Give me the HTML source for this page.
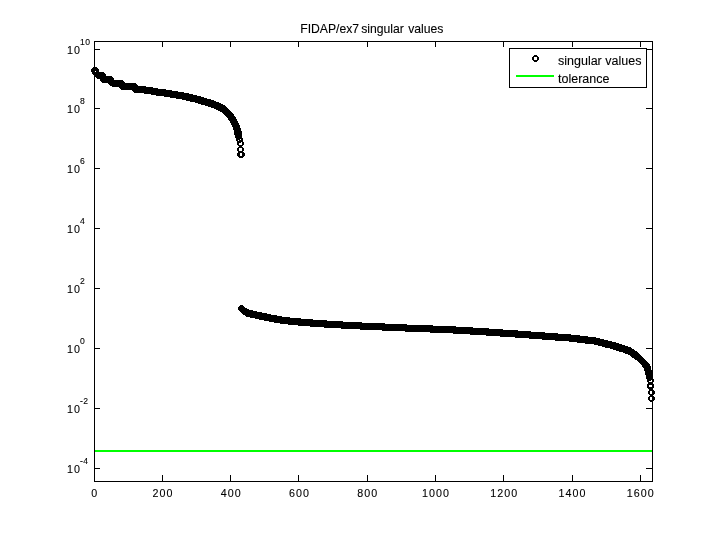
<!DOCTYPE html>
<html><head><meta charset="utf-8"><title>FIDAP/ex7 singular values</title>
<style>
html,body{margin:0;padding:0;background:#fff;}
svg{display:block;}
text{font-family:"Liberation Sans",sans-serif;fill:#000;stroke:#000;stroke-width:0.1px;}
</style></head><body>
<svg width="720" height="540" viewBox="0 0 720 540">
<rect x="0" y="0" width="720" height="540" fill="#fff"/>
<rect x="94" y="450" width="558" height="2" fill="#00ff00" shape-rendering="crispEdges"/>
<path fill="#000" shape-rendering="crispEdges" d="M93 67h3v1h1v1h1v3h-1v1h-1v1h-3v-1h-1v-1h-1v-3h1v-1h1zm0 2v3h3v-3zM94 67h3v1h1v1h1v3h-1v1h-1v1h-3v-1h-1v-1h-1v-3h1v-1h1zm0 2v3h3v-3zM94 69h3v1h1v1h1v3h-1v1h-1v1h-3v-1h-1v-1h-1v-3h1v-1h1zm0 2v3h3v-3zM96 71h3v1h1v1h1v3h-1v1h-1v1h-3v-1h-1v-1h-1v-3h1v-1h1zm0 2v3h3v-3zM97 72h3v1h1v1h1v3h-1v1h-1v1h-3v-1h-1v-1h-1v-3h1v-1h1zm0 2v3h3v-3zM98 72h3v1h1v1h1v3h-1v1h-1v1h-3v-1h-1v-1h-1v-3h1v-1h1zm0 2v3h3v-3zM99 72h3v1h1v1h1v3h-1v1h-1v1h-3v-1h-1v-1h-1v-3h1v-1h1zm0 2v3h3v-3zM100 72h3v1h1v1h1v3h-1v1h-1v1h-3v-1h-1v-1h-1v-3h1v-1h1zm0 2v3h3v-3zM101 72h3v1h1v1h1v3h-1v1h-1v1h-3v-1h-1v-1h-1v-3h1v-1h1zm0 2v3h3v-3zM102 76h3v1h1v1h1v3h-1v1h-1v1h-3v-1h-1v-1h-1v-3h1v-1h1zm0 2v3h3v-3zM103 76h3v1h1v1h1v3h-1v1h-1v1h-3v-1h-1v-1h-1v-3h1v-1h1zm0 2v3h3v-3zM104 76h3v1h1v1h1v3h-1v1h-1v1h-3v-1h-1v-1h-1v-3h1v-1h1zm0 2v3h3v-3zM105 76h3v1h1v1h1v3h-1v1h-1v1h-3v-1h-1v-1h-1v-3h1v-1h1zm0 2v3h3v-3zM106 76h3v1h1v1h1v3h-1v1h-1v1h-3v-1h-1v-1h-1v-3h1v-1h1zm0 2v3h3v-3zM107 76h3v1h1v1h1v3h-1v1h-1v1h-3v-1h-1v-1h-1v-3h1v-1h1zm0 2v3h3v-3zM108 76h3v1h1v1h1v3h-1v1h-1v1h-3v-1h-1v-1h-1v-3h1v-1h1zm0 2v3h3v-3zM109 76h3v1h1v1h1v3h-1v1h-1v1h-3v-1h-1v-1h-1v-3h1v-1h1zm0 2v3h3v-3zM110 79h3v1h1v1h1v3h-1v1h-1v1h-3v-1h-1v-1h-1v-3h1v-1h1zm0 2v3h3v-3zM111 79h3v1h1v1h1v3h-1v1h-1v1h-3v-1h-1v-1h-1v-3h1v-1h1zm0 2v3h3v-3zM112 80h3v1h1v1h1v3h-1v1h-1v1h-3v-1h-1v-1h-1v-3h1v-1h1zm0 2v3h3v-3zM113 80h3v1h1v1h1v3h-1v1h-1v1h-3v-1h-1v-1h-1v-3h1v-1h1zm0 2v3h3v-3zM114 80h3v1h1v1h1v3h-1v1h-1v1h-3v-1h-1v-1h-1v-3h1v-1h1zm0 2v3h3v-3zM115 80h3v1h1v1h1v3h-1v1h-1v1h-3v-1h-1v-1h-1v-3h1v-1h1zm0 2v3h3v-3zM116 80h3v1h1v1h1v3h-1v1h-1v1h-3v-1h-1v-1h-1v-3h1v-1h1zm0 2v3h3v-3zM117 80h3v1h1v1h1v3h-1v1h-1v1h-3v-1h-1v-1h-1v-3h1v-1h1zm0 2v3h3v-3zM118 80h3v1h1v1h1v3h-1v1h-1v1h-3v-1h-1v-1h-1v-3h1v-1h1zm0 2v3h3v-3zM119 80h3v1h1v1h1v3h-1v1h-1v1h-3v-1h-1v-1h-1v-3h1v-1h1zm0 2v3h3v-3zM120 80h3v1h1v1h1v3h-1v1h-1v1h-3v-1h-1v-1h-1v-3h1v-1h1zm0 2v3h3v-3zM121 82h3v1h1v1h1v3h-1v1h-1v1h-3v-1h-1v-1h-1v-3h1v-1h1zm0 2v3h3v-3zM121 83h3v1h1v1h1v3h-1v1h-1v1h-3v-1h-1v-1h-1v-3h1v-1h1zm0 2v3h3v-3zM122 83h3v1h1v1h1v3h-1v1h-1v1h-3v-1h-1v-1h-1v-3h1v-1h1zm0 2v3h3v-3zM123 83h3v1h1v1h1v3h-1v1h-1v1h-3v-1h-1v-1h-1v-3h1v-1h1zm0 2v3h3v-3zM124 83h3v1h1v1h1v3h-1v1h-1v1h-3v-1h-1v-1h-1v-3h1v-1h1zm0 2v3h3v-3zM125 83h3v1h1v1h1v3h-1v1h-1v1h-3v-1h-1v-1h-1v-3h1v-1h1zm0 2v3h3v-3zM126 83h3v1h1v1h1v3h-1v1h-1v1h-3v-1h-1v-1h-1v-3h1v-1h1zm0 2v3h3v-3zM127 83h3v1h1v1h1v3h-1v1h-1v1h-3v-1h-1v-1h-1v-3h1v-1h1zm0 2v3h3v-3zM128 83h3v1h1v1h1v3h-1v1h-1v1h-3v-1h-1v-1h-1v-3h1v-1h1zm0 2v3h3v-3zM129 83h3v1h1v1h1v3h-1v1h-1v1h-3v-1h-1v-1h-1v-3h1v-1h1zm0 2v3h3v-3zM130 83h3v1h1v1h1v3h-1v1h-1v1h-3v-1h-1v-1h-1v-3h1v-1h1zm0 2v3h3v-3zM131 83h3v1h1v1h1v3h-1v1h-1v1h-3v-1h-1v-1h-1v-3h1v-1h1zm0 2v3h3v-3zM132 83h3v1h1v1h1v3h-1v1h-1v1h-3v-1h-1v-1h-1v-3h1v-1h1zm0 2v3h3v-3zM133 83h3v1h1v1h1v3h-1v1h-1v1h-3v-1h-1v-1h-1v-3h1v-1h1zm0 2v3h3v-3zM134 85h3v1h1v1h1v3h-1v1h-1v1h-3v-1h-1v-1h-1v-3h1v-1h1zm0 2v3h3v-3zM134 86h3v1h1v1h1v3h-1v1h-1v1h-3v-1h-1v-1h-1v-3h1v-1h1zm0 2v3h3v-3zM135 86h3v1h1v1h1v3h-1v1h-1v1h-3v-1h-1v-1h-1v-3h1v-1h1zm0 2v3h3v-3zM136 86h3v1h1v1h1v3h-1v1h-1v1h-3v-1h-1v-1h-1v-3h1v-1h1zm0 2v3h3v-3zM137 86h3v1h1v1h1v3h-1v1h-1v1h-3v-1h-1v-1h-1v-3h1v-1h1zm0 2v3h3v-3zM138 86h3v1h1v1h1v3h-1v1h-1v1h-3v-1h-1v-1h-1v-3h1v-1h1zm0 2v3h3v-3zM139 86h3v1h1v1h1v3h-1v1h-1v1h-3v-1h-1v-1h-1v-3h1v-1h1zm0 2v3h3v-3zM140 86h3v1h1v1h1v3h-1v1h-1v1h-3v-1h-1v-1h-1v-3h1v-1h1zm0 2v3h3v-3zM141 86h3v1h1v1h1v3h-1v1h-1v1h-3v-1h-1v-1h-1v-3h1v-1h1zm0 2v3h3v-3zM142 86h3v1h1v1h1v3h-1v1h-1v1h-3v-1h-1v-1h-1v-3h1v-1h1zm0 2v3h3v-3zM143 86h3v1h1v1h1v3h-1v1h-1v1h-3v-1h-1v-1h-1v-3h1v-1h1zm0 2v3h3v-3zM144 87h3v1h1v1h1v3h-1v1h-1v1h-3v-1h-1v-1h-1v-3h1v-1h1zm0 2v3h3v-3zM145 87h3v1h1v1h1v3h-1v1h-1v1h-3v-1h-1v-1h-1v-3h1v-1h1zm0 2v3h3v-3zM146 87h3v1h1v1h1v3h-1v1h-1v1h-3v-1h-1v-1h-1v-3h1v-1h1zm0 2v3h3v-3zM147 87h3v1h1v1h1v3h-1v1h-1v1h-3v-1h-1v-1h-1v-3h1v-1h1zm0 2v3h3v-3zM148 87h3v1h1v1h1v3h-1v1h-1v1h-3v-1h-1v-1h-1v-3h1v-1h1zm0 2v3h3v-3zM149 87h3v1h1v1h1v3h-1v1h-1v1h-3v-1h-1v-1h-1v-3h1v-1h1zm0 2v3h3v-3zM150 87h3v1h1v1h1v3h-1v1h-1v1h-3v-1h-1v-1h-1v-3h1v-1h1zm0 2v3h3v-3zM151 88h3v1h1v1h1v3h-1v1h-1v1h-3v-1h-1v-1h-1v-3h1v-1h1zm0 2v3h3v-3zM152 88h3v1h1v1h1v3h-1v1h-1v1h-3v-1h-1v-1h-1v-3h1v-1h1zm0 2v3h3v-3zM153 88h3v1h1v1h1v3h-1v1h-1v1h-3v-1h-1v-1h-1v-3h1v-1h1zm0 2v3h3v-3zM154 88h3v1h1v1h1v3h-1v1h-1v1h-3v-1h-1v-1h-1v-3h1v-1h1zm0 2v3h3v-3zM155 88h3v1h1v1h1v3h-1v1h-1v1h-3v-1h-1v-1h-1v-3h1v-1h1zm0 2v3h3v-3zM156 89h3v1h1v1h1v3h-1v1h-1v1h-3v-1h-1v-1h-1v-3h1v-1h1zm0 2v3h3v-3zM157 89h3v1h1v1h1v3h-1v1h-1v1h-3v-1h-1v-1h-1v-3h1v-1h1zm0 2v3h3v-3zM158 89h3v1h1v1h1v3h-1v1h-1v1h-3v-1h-1v-1h-1v-3h1v-1h1zm0 2v3h3v-3zM159 89h3v1h1v1h1v3h-1v1h-1v1h-3v-1h-1v-1h-1v-3h1v-1h1zm0 2v3h3v-3zM160 89h3v1h1v1h1v3h-1v1h-1v1h-3v-1h-1v-1h-1v-3h1v-1h1zm0 2v3h3v-3zM161 89h3v1h1v1h1v3h-1v1h-1v1h-3v-1h-1v-1h-1v-3h1v-1h1zm0 2v3h3v-3zM162 89h3v1h1v1h1v3h-1v1h-1v1h-3v-1h-1v-1h-1v-3h1v-1h1zm0 2v3h3v-3zM163 89h3v1h1v1h1v3h-1v1h-1v1h-3v-1h-1v-1h-1v-3h1v-1h1zm0 2v3h3v-3zM164 90h3v1h1v1h1v3h-1v1h-1v1h-3v-1h-1v-1h-1v-3h1v-1h1zm0 2v3h3v-3zM165 90h3v1h1v1h1v3h-1v1h-1v1h-3v-1h-1v-1h-1v-3h1v-1h1zm0 2v3h3v-3zM166 90h3v1h1v1h1v3h-1v1h-1v1h-3v-1h-1v-1h-1v-3h1v-1h1zm0 2v3h3v-3zM167 90h3v1h1v1h1v3h-1v1h-1v1h-3v-1h-1v-1h-1v-3h1v-1h1zm0 2v3h3v-3zM168 90h3v1h1v1h1v3h-1v1h-1v1h-3v-1h-1v-1h-1v-3h1v-1h1zm0 2v3h3v-3zM169 90h3v1h1v1h1v3h-1v1h-1v1h-3v-1h-1v-1h-1v-3h1v-1h1zm0 2v3h3v-3zM170 91h3v1h1v1h1v3h-1v1h-1v1h-3v-1h-1v-1h-1v-3h1v-1h1zm0 2v3h3v-3zM171 91h3v1h1v1h1v3h-1v1h-1v1h-3v-1h-1v-1h-1v-3h1v-1h1zm0 2v3h3v-3zM172 91h3v1h1v1h1v3h-1v1h-1v1h-3v-1h-1v-1h-1v-3h1v-1h1zm0 2v3h3v-3zM173 91h3v1h1v1h1v3h-1v1h-1v1h-3v-1h-1v-1h-1v-3h1v-1h1zm0 2v3h3v-3zM174 91h3v1h1v1h1v3h-1v1h-1v1h-3v-1h-1v-1h-1v-3h1v-1h1zm0 2v3h3v-3zM175 91h3v1h1v1h1v3h-1v1h-1v1h-3v-1h-1v-1h-1v-3h1v-1h1zm0 2v3h3v-3zM176 92h3v1h1v1h1v3h-1v1h-1v1h-3v-1h-1v-1h-1v-3h1v-1h1zm0 2v3h3v-3zM177 92h3v1h1v1h1v3h-1v1h-1v1h-3v-1h-1v-1h-1v-3h1v-1h1zm0 2v3h3v-3zM178 92h3v1h1v1h1v3h-1v1h-1v1h-3v-1h-1v-1h-1v-3h1v-1h1zm0 2v3h3v-3zM179 92h3v1h1v1h1v3h-1v1h-1v1h-3v-1h-1v-1h-1v-3h1v-1h1zm0 2v3h3v-3zM180 92h3v1h1v1h1v3h-1v1h-1v1h-3v-1h-1v-1h-1v-3h1v-1h1zm0 2v3h3v-3zM181 92h3v1h1v1h1v3h-1v1h-1v1h-3v-1h-1v-1h-1v-3h1v-1h1zm0 2v3h3v-3zM182 93h3v1h1v1h1v3h-1v1h-1v1h-3v-1h-1v-1h-1v-3h1v-1h1zm0 2v3h3v-3zM183 93h3v1h1v1h1v3h-1v1h-1v1h-3v-1h-1v-1h-1v-3h1v-1h1zm0 2v3h3v-3zM184 93h3v1h1v1h1v3h-1v1h-1v1h-3v-1h-1v-1h-1v-3h1v-1h1zm0 2v3h3v-3zM185 93h3v1h1v1h1v3h-1v1h-1v1h-3v-1h-1v-1h-1v-3h1v-1h1zm0 2v3h3v-3zM186 93h3v1h1v1h1v3h-1v1h-1v1h-3v-1h-1v-1h-1v-3h1v-1h1zm0 2v3h3v-3zM186 94h3v1h1v1h1v3h-1v1h-1v1h-3v-1h-1v-1h-1v-3h1v-1h1zm0 2v3h3v-3zM187 94h3v1h1v1h1v3h-1v1h-1v1h-3v-1h-1v-1h-1v-3h1v-1h1zm0 2v3h3v-3zM188 94h3v1h1v1h1v3h-1v1h-1v1h-3v-1h-1v-1h-1v-3h1v-1h1zm0 2v3h3v-3zM189 94h3v1h1v1h1v3h-1v1h-1v1h-3v-1h-1v-1h-1v-3h1v-1h1zm0 2v3h3v-3zM190 94h3v1h1v1h1v3h-1v1h-1v1h-3v-1h-1v-1h-1v-3h1v-1h1zm0 2v3h3v-3zM190 95h3v1h1v1h1v3h-1v1h-1v1h-3v-1h-1v-1h-1v-3h1v-1h1zm0 2v3h3v-3zM191 95h3v1h1v1h1v3h-1v1h-1v1h-3v-1h-1v-1h-1v-3h1v-1h1zm0 2v3h3v-3zM192 95h3v1h1v1h1v3h-1v1h-1v1h-3v-1h-1v-1h-1v-3h1v-1h1zm0 2v3h3v-3zM193 95h3v1h1v1h1v3h-1v1h-1v1h-3v-1h-1v-1h-1v-3h1v-1h1zm0 2v3h3v-3zM194 95h3v1h1v1h1v3h-1v1h-1v1h-3v-1h-1v-1h-1v-3h1v-1h1zm0 2v3h3v-3zM195 96h3v1h1v1h1v3h-1v1h-1v1h-3v-1h-1v-1h-1v-3h1v-1h1zm0 2v3h3v-3zM196 96h3v1h1v1h1v3h-1v1h-1v1h-3v-1h-1v-1h-1v-3h1v-1h1zm0 2v3h3v-3zM197 96h3v1h1v1h1v3h-1v1h-1v1h-3v-1h-1v-1h-1v-3h1v-1h1zm0 2v3h3v-3zM198 96h3v1h1v1h1v3h-1v1h-1v1h-3v-1h-1v-1h-1v-3h1v-1h1zm0 2v3h3v-3zM198 97h3v1h1v1h1v3h-1v1h-1v1h-3v-1h-1v-1h-1v-3h1v-1h1zm0 2v3h3v-3zM199 97h3v1h1v1h1v3h-1v1h-1v1h-3v-1h-1v-1h-1v-3h1v-1h1zm0 2v3h3v-3zM200 97h3v1h1v1h1v3h-1v1h-1v1h-3v-1h-1v-1h-1v-3h1v-1h1zm0 2v3h3v-3zM201 97h3v1h1v1h1v3h-1v1h-1v1h-3v-1h-1v-1h-1v-3h1v-1h1zm0 2v3h3v-3zM201 98h3v1h1v1h1v3h-1v1h-1v1h-3v-1h-1v-1h-1v-3h1v-1h1zm0 2v3h3v-3zM202 98h3v1h1v1h1v3h-1v1h-1v1h-3v-1h-1v-1h-1v-3h1v-1h1zm0 2v3h3v-3zM203 98h3v1h1v1h1v3h-1v1h-1v1h-3v-1h-1v-1h-1v-3h1v-1h1zm0 2v3h3v-3zM204 98h3v1h1v1h1v3h-1v1h-1v1h-3v-1h-1v-1h-1v-3h1v-1h1zm0 2v3h3v-3zM205 99h3v1h1v1h1v3h-1v1h-1v1h-3v-1h-1v-1h-1v-3h1v-1h1zm0 2v3h3v-3zM206 99h3v1h1v1h1v3h-1v1h-1v1h-3v-1h-1v-1h-1v-3h1v-1h1zm0 2v3h3v-3zM207 99h3v1h1v1h1v3h-1v1h-1v1h-3v-1h-1v-1h-1v-3h1v-1h1zm0 2v3h3v-3zM208 99h3v1h1v1h1v3h-1v1h-1v1h-3v-1h-1v-1h-1v-3h1v-1h1zm0 2v3h3v-3zM208 100h3v1h1v1h1v3h-1v1h-1v1h-3v-1h-1v-1h-1v-3h1v-1h1zm0 2v3h3v-3zM209 100h3v1h1v1h1v3h-1v1h-1v1h-3v-1h-1v-1h-1v-3h1v-1h1zm0 2v3h3v-3zM210 100h3v1h1v1h1v3h-1v1h-1v1h-3v-1h-1v-1h-1v-3h1v-1h1zm0 2v3h3v-3zM211 100h3v1h1v1h1v3h-1v1h-1v1h-3v-1h-1v-1h-1v-3h1v-1h1zm0 2v3h3v-3zM211 101h3v1h1v1h1v3h-1v1h-1v1h-3v-1h-1v-1h-1v-3h1v-1h1zm0 2v3h3v-3zM212 101h3v1h1v1h1v3h-1v1h-1v1h-3v-1h-1v-1h-1v-3h1v-1h1zm0 2v3h3v-3zM213 101h3v1h1v1h1v3h-1v1h-1v1h-3v-1h-1v-1h-1v-3h1v-1h1zm0 2v3h3v-3zM214 102h3v1h1v1h1v3h-1v1h-1v1h-3v-1h-1v-1h-1v-3h1v-1h1zm0 2v3h3v-3zM215 102h3v1h1v1h1v3h-1v1h-1v1h-3v-1h-1v-1h-1v-3h1v-1h1zm0 2v3h3v-3zM216 102h3v1h1v1h1v3h-1v1h-1v1h-3v-1h-1v-1h-1v-3h1v-1h1zm0 2v3h3v-3zM216 103h3v1h1v1h1v3h-1v1h-1v1h-3v-1h-1v-1h-1v-3h1v-1h1zm0 2v3h3v-3zM217 103h3v1h1v1h1v3h-1v1h-1v1h-3v-1h-1v-1h-1v-3h1v-1h1zm0 2v3h3v-3zM218 103h3v1h1v1h1v3h-1v1h-1v1h-3v-1h-1v-1h-1v-3h1v-1h1zm0 2v3h3v-3zM218 104h3v1h1v1h1v3h-1v1h-1v1h-3v-1h-1v-1h-1v-3h1v-1h1zm0 2v3h3v-3zM219 104h3v1h1v1h1v3h-1v1h-1v1h-3v-1h-1v-1h-1v-3h1v-1h1zm0 2v3h3v-3zM220 104h3v1h1v1h1v3h-1v1h-1v1h-3v-1h-1v-1h-1v-3h1v-1h1zm0 2v3h3v-3zM220 105h3v1h1v1h1v3h-1v1h-1v1h-3v-1h-1v-1h-1v-3h1v-1h1zm0 2v3h3v-3zM221 105h3v1h1v1h1v3h-1v1h-1v1h-3v-1h-1v-1h-1v-3h1v-1h1zm0 2v3h3v-3zM222 105h3v1h1v1h1v3h-1v1h-1v1h-3v-1h-1v-1h-1v-3h1v-1h1zm0 2v3h3v-3zM222 106h3v1h1v1h1v3h-1v1h-1v1h-3v-1h-1v-1h-1v-3h1v-1h1zm0 2v3h3v-3zM223 106h3v1h1v1h1v3h-1v1h-1v1h-3v-1h-1v-1h-1v-3h1v-1h1zm0 2v3h3v-3zM223 107h3v1h1v1h1v3h-1v1h-1v1h-3v-1h-1v-1h-1v-3h1v-1h1zm0 2v3h3v-3zM224 107h3v1h1v1h1v3h-1v1h-1v1h-3v-1h-1v-1h-1v-3h1v-1h1zm0 2v3h3v-3zM224 108h3v1h1v1h1v3h-1v1h-1v1h-3v-1h-1v-1h-1v-3h1v-1h1zm0 2v3h3v-3zM225 108h3v1h1v1h1v3h-1v1h-1v1h-3v-1h-1v-1h-1v-3h1v-1h1zm0 2v3h3v-3zM225 109h3v1h1v1h1v3h-1v1h-1v1h-3v-1h-1v-1h-1v-3h1v-1h1zm0 2v3h3v-3zM226 109h3v1h1v1h1v3h-1v1h-1v1h-3v-1h-1v-1h-1v-3h1v-1h1zm0 2v3h3v-3zM226 110h3v1h1v1h1v3h-1v1h-1v1h-3v-1h-1v-1h-1v-3h1v-1h1zm0 2v3h3v-3zM227 110h3v1h1v1h1v3h-1v1h-1v1h-3v-1h-1v-1h-1v-3h1v-1h1zm0 2v3h3v-3zM227 111h3v1h1v1h1v3h-1v1h-1v1h-3v-1h-1v-1h-1v-3h1v-1h1zm0 2v3h3v-3zM228 111h3v1h1v1h1v3h-1v1h-1v1h-3v-1h-1v-1h-1v-3h1v-1h1zm0 2v3h3v-3zM228 112h3v1h1v1h1v3h-1v1h-1v1h-3v-1h-1v-1h-1v-3h1v-1h1zm0 2v3h3v-3zM229 112h3v1h1v1h1v3h-1v1h-1v1h-3v-1h-1v-1h-1v-3h1v-1h1zm0 2v3h3v-3zM229 113h3v1h1v1h1v3h-1v1h-1v1h-3v-1h-1v-1h-1v-3h1v-1h1zm0 2v3h3v-3zM230 114h3v1h1v1h1v3h-1v1h-1v1h-3v-1h-1v-1h-1v-3h1v-1h1zm0 2v3h3v-3zM230 115h3v1h1v1h1v3h-1v1h-1v1h-3v-1h-1v-1h-1v-3h1v-1h1zm0 2v3h3v-3zM231 115h3v1h1v1h1v3h-1v1h-1v1h-3v-1h-1v-1h-1v-3h1v-1h1zm0 2v3h3v-3zM231 116h3v1h1v1h1v3h-1v1h-1v1h-3v-1h-1v-1h-1v-3h1v-1h1zm0 2v3h3v-3zM232 117h3v1h1v1h1v3h-1v1h-1v1h-3v-1h-1v-1h-1v-3h1v-1h1zm0 2v3h3v-3zM232 118h3v1h1v1h1v3h-1v1h-1v1h-3v-1h-1v-1h-1v-3h1v-1h1zm0 2v3h3v-3zM233 119h3v1h1v1h1v3h-1v1h-1v1h-3v-1h-1v-1h-1v-3h1v-1h1zm0 2v3h3v-3zM233 120h3v1h1v1h1v3h-1v1h-1v1h-3v-1h-1v-1h-1v-3h1v-1h1zm0 2v3h3v-3zM234 121h3v1h1v1h1v3h-1v1h-1v1h-3v-1h-1v-1h-1v-3h1v-1h1zm0 2v3h3v-3zM234 122h3v1h1v1h1v3h-1v1h-1v1h-3v-1h-1v-1h-1v-3h1v-1h1zm0 2v3h3v-3zM235 123h3v1h1v1h1v3h-1v1h-1v1h-3v-1h-1v-1h-1v-3h1v-1h1zm0 2v3h3v-3zM235 124h3v1h1v1h1v3h-1v1h-1v1h-3v-1h-1v-1h-1v-3h1v-1h1zm0 2v3h3v-3zM235 125h3v1h1v1h1v3h-1v1h-1v1h-3v-1h-1v-1h-1v-3h1v-1h1zm0 2v3h3v-3zM236 126h3v1h1v1h1v3h-1v1h-1v1h-3v-1h-1v-1h-1v-3h1v-1h1zm0 2v3h3v-3zM236 128h3v1h1v1h1v3h-1v1h-1v1h-3v-1h-1v-1h-1v-3h1v-1h1zm0 2v3h3v-3zM236 130h3v1h1v1h1v3h-1v1h-1v1h-3v-1h-1v-1h-1v-3h1v-1h1zm0 2v3h3v-3zM237 131h3v1h1v1h1v3h-1v1h-1v1h-3v-1h-1v-1h-1v-3h1v-1h1zm0 2v3h3v-3zM237 132h3v1h1v1h1v3h-1v1h-1v1h-3v-1h-1v-1h-1v-3h1v-1h1zm0 2v3h3v-3zM237 133h3v1h1v1h1v3h-1v1h-1v1h-3v-1h-1v-1h-1v-3h1v-1h1zm0 2v3h3v-3zM237 129h3v1h1v1h1v3h-1v1h-1v1h-3v-1h-1v-1h-1v-3h1v-1h1zm0 2v3h3v-3zM238 136h3v1h1v1h1v3h-1v1h-1v1h-3v-1h-1v-1h-1v-3h1v-1h1zm0 2v3h3v-3zM239 140h3v1h1v1h1v3h-1v1h-1v1h-3v-1h-1v-1h-1v-3h1v-1h1zm0 2v3h3v-3zM239 146h3v1h1v1h1v3h-1v1h-1v1h-3v-1h-1v-1h-1v-3h1v-1h1zm0 2v3h3v-3zM239 151h3v1h1v1h1v3h-1v1h-1v1h-3v-1h-1v-1h-1v-3h1v-1h1zm0 2v3h3v-3zM240 151h3v1h1v1h1v3h-1v1h-1v1h-3v-1h-1v-1h-1v-3h1v-1h1zm0 2v3h3v-3zM240 305h3v1h1v1h1v3h-1v1h-1v1h-3v-1h-1v-1h-1v-3h1v-1h1zm0 2v3h3v-3zM241 306h3v1h1v1h1v3h-1v1h-1v1h-3v-1h-1v-1h-1v-3h1v-1h1zm0 2v3h3v-3zM242 307h3v1h1v1h1v3h-1v1h-1v1h-3v-1h-1v-1h-1v-3h1v-1h1zm0 2v3h3v-3zM243 308h3v1h1v1h1v3h-1v1h-1v1h-3v-1h-1v-1h-1v-3h1v-1h1zm0 2v3h3v-3zM244 308h3v1h1v1h1v3h-1v1h-1v1h-3v-1h-1v-1h-1v-3h1v-1h1zm0 2v3h3v-3zM245 309h3v1h1v1h1v3h-1v1h-1v1h-3v-1h-1v-1h-1v-3h1v-1h1zm0 2v3h3v-3zM246 309h3v1h1v1h1v3h-1v1h-1v1h-3v-1h-1v-1h-1v-3h1v-1h1zm0 2v3h3v-3zM246 310h3v1h1v1h1v3h-1v1h-1v1h-3v-1h-1v-1h-1v-3h1v-1h1zm0 2v3h3v-3zM247 310h3v1h1v1h1v3h-1v1h-1v1h-3v-1h-1v-1h-1v-3h1v-1h1zm0 2v3h3v-3zM248 310h3v1h1v1h1v3h-1v1h-1v1h-3v-1h-1v-1h-1v-3h1v-1h1zm0 2v3h3v-3zM249 310h3v1h1v1h1v3h-1v1h-1v1h-3v-1h-1v-1h-1v-3h1v-1h1zm0 2v3h3v-3zM250 310h3v1h1v1h1v3h-1v1h-1v1h-3v-1h-1v-1h-1v-3h1v-1h1zm0 2v3h3v-3zM250 311h3v1h1v1h1v3h-1v1h-1v1h-3v-1h-1v-1h-1v-3h1v-1h1zm0 2v3h3v-3zM251 311h3v1h1v1h1v3h-1v1h-1v1h-3v-1h-1v-1h-1v-3h1v-1h1zm0 2v3h3v-3zM252 311h3v1h1v1h1v3h-1v1h-1v1h-3v-1h-1v-1h-1v-3h1v-1h1zm0 2v3h3v-3zM253 311h3v1h1v1h1v3h-1v1h-1v1h-3v-1h-1v-1h-1v-3h1v-1h1zm0 2v3h3v-3zM254 311h3v1h1v1h1v3h-1v1h-1v1h-3v-1h-1v-1h-1v-3h1v-1h1zm0 2v3h3v-3zM255 312h3v1h1v1h1v3h-1v1h-1v1h-3v-1h-1v-1h-1v-3h1v-1h1zm0 2v3h3v-3zM256 312h3v1h1v1h1v3h-1v1h-1v1h-3v-1h-1v-1h-1v-3h1v-1h1zm0 2v3h3v-3zM257 312h3v1h1v1h1v3h-1v1h-1v1h-3v-1h-1v-1h-1v-3h1v-1h1zm0 2v3h3v-3zM258 312h3v1h1v1h1v3h-1v1h-1v1h-3v-1h-1v-1h-1v-3h1v-1h1zm0 2v3h3v-3zM259 312h3v1h1v1h1v3h-1v1h-1v1h-3v-1h-1v-1h-1v-3h1v-1h1zm0 2v3h3v-3zM259 313h3v1h1v1h1v3h-1v1h-1v1h-3v-1h-1v-1h-1v-3h1v-1h1zm0 2v3h3v-3zM260 313h3v1h1v1h1v3h-1v1h-1v1h-3v-1h-1v-1h-1v-3h1v-1h1zm0 2v3h3v-3zM261 313h3v1h1v1h1v3h-1v1h-1v1h-3v-1h-1v-1h-1v-3h1v-1h1zm0 2v3h3v-3zM262 313h3v1h1v1h1v3h-1v1h-1v1h-3v-1h-1v-1h-1v-3h1v-1h1zm0 2v3h3v-3zM263 313h3v1h1v1h1v3h-1v1h-1v1h-3v-1h-1v-1h-1v-3h1v-1h1zm0 2v3h3v-3zM264 313h3v1h1v1h1v3h-1v1h-1v1h-3v-1h-1v-1h-1v-3h1v-1h1zm0 2v3h3v-3zM264 314h3v1h1v1h1v3h-1v1h-1v1h-3v-1h-1v-1h-1v-3h1v-1h1zm0 2v3h3v-3zM265 314h3v1h1v1h1v3h-1v1h-1v1h-3v-1h-1v-1h-1v-3h1v-1h1zm0 2v3h3v-3zM266 314h3v1h1v1h1v3h-1v1h-1v1h-3v-1h-1v-1h-1v-3h1v-1h1zm0 2v3h3v-3zM267 314h3v1h1v1h1v3h-1v1h-1v1h-3v-1h-1v-1h-1v-3h1v-1h1zm0 2v3h3v-3zM268 314h3v1h1v1h1v3h-1v1h-1v1h-3v-1h-1v-1h-1v-3h1v-1h1zm0 2v3h3v-3zM269 315h3v1h1v1h1v3h-1v1h-1v1h-3v-1h-1v-1h-1v-3h1v-1h1zm0 2v3h3v-3zM270 315h3v1h1v1h1v3h-1v1h-1v1h-3v-1h-1v-1h-1v-3h1v-1h1zm0 2v3h3v-3zM271 315h3v1h1v1h1v3h-1v1h-1v1h-3v-1h-1v-1h-1v-3h1v-1h1zm0 2v3h3v-3zM272 315h3v1h1v1h1v3h-1v1h-1v1h-3v-1h-1v-1h-1v-3h1v-1h1zm0 2v3h3v-3zM273 315h3v1h1v1h1v3h-1v1h-1v1h-3v-1h-1v-1h-1v-3h1v-1h1zm0 2v3h3v-3zM274 315h3v1h1v1h1v3h-1v1h-1v1h-3v-1h-1v-1h-1v-3h1v-1h1zm0 2v3h3v-3zM274 316h3v1h1v1h1v3h-1v1h-1v1h-3v-1h-1v-1h-1v-3h1v-1h1zm0 2v3h3v-3zM275 316h3v1h1v1h1v3h-1v1h-1v1h-3v-1h-1v-1h-1v-3h1v-1h1zm0 2v3h3v-3zM276 316h3v1h1v1h1v3h-1v1h-1v1h-3v-1h-1v-1h-1v-3h1v-1h1zm0 2v3h3v-3zM277 316h3v1h1v1h1v3h-1v1h-1v1h-3v-1h-1v-1h-1v-3h1v-1h1zm0 2v3h3v-3zM278 316h3v1h1v1h1v3h-1v1h-1v1h-3v-1h-1v-1h-1v-3h1v-1h1zm0 2v3h3v-3zM279 316h3v1h1v1h1v3h-1v1h-1v1h-3v-1h-1v-1h-1v-3h1v-1h1zm0 2v3h3v-3zM280 317h3v1h1v1h1v3h-1v1h-1v1h-3v-1h-1v-1h-1v-3h1v-1h1zm0 2v3h3v-3zM281 317h3v1h1v1h1v3h-1v1h-1v1h-3v-1h-1v-1h-1v-3h1v-1h1zm0 2v3h3v-3zM282 317h3v1h1v1h1v3h-1v1h-1v1h-3v-1h-1v-1h-1v-3h1v-1h1zm0 2v3h3v-3zM283 317h3v1h1v1h1v3h-1v1h-1v1h-3v-1h-1v-1h-1v-3h1v-1h1zm0 2v3h3v-3zM284 317h3v1h1v1h1v3h-1v1h-1v1h-3v-1h-1v-1h-1v-3h1v-1h1zm0 2v3h3v-3zM285 317h3v1h1v1h1v3h-1v1h-1v1h-3v-1h-1v-1h-1v-3h1v-1h1zm0 2v3h3v-3zM286 317h3v1h1v1h1v3h-1v1h-1v1h-3v-1h-1v-1h-1v-3h1v-1h1zm0 2v3h3v-3zM287 317h3v1h1v1h1v3h-1v1h-1v1h-3v-1h-1v-1h-1v-3h1v-1h1zm0 2v3h3v-3zM288 318h3v1h1v1h1v3h-1v1h-1v1h-3v-1h-1v-1h-1v-3h1v-1h1zm0 2v3h3v-3zM289 318h3v1h1v1h1v3h-1v1h-1v1h-3v-1h-1v-1h-1v-3h1v-1h1zm0 2v3h3v-3zM290 318h3v1h1v1h1v3h-1v1h-1v1h-3v-1h-1v-1h-1v-3h1v-1h1zm0 2v3h3v-3zM291 318h3v1h1v1h1v3h-1v1h-1v1h-3v-1h-1v-1h-1v-3h1v-1h1zm0 2v3h3v-3zM292 318h3v1h1v1h1v3h-1v1h-1v1h-3v-1h-1v-1h-1v-3h1v-1h1zm0 2v3h3v-3zM293 318h3v1h1v1h1v3h-1v1h-1v1h-3v-1h-1v-1h-1v-3h1v-1h1zm0 2v3h3v-3zM294 318h3v1h1v1h1v3h-1v1h-1v1h-3v-1h-1v-1h-1v-3h1v-1h1zm0 2v3h3v-3zM295 318h3v1h1v1h1v3h-1v1h-1v1h-3v-1h-1v-1h-1v-3h1v-1h1zm0 2v3h3v-3zM296 318h3v1h1v1h1v3h-1v1h-1v1h-3v-1h-1v-1h-1v-3h1v-1h1zm0 2v3h3v-3zM297 318h3v1h1v1h1v3h-1v1h-1v1h-3v-1h-1v-1h-1v-3h1v-1h1zm0 2v3h3v-3zM298 318h3v1h1v1h1v3h-1v1h-1v1h-3v-1h-1v-1h-1v-3h1v-1h1zm0 2v3h3v-3zM298 319h3v1h1v1h1v3h-1v1h-1v1h-3v-1h-1v-1h-1v-3h1v-1h1zm0 2v3h3v-3zM299 319h3v1h1v1h1v3h-1v1h-1v1h-3v-1h-1v-1h-1v-3h1v-1h1zm0 2v3h3v-3zM300 319h3v1h1v1h1v3h-1v1h-1v1h-3v-1h-1v-1h-1v-3h1v-1h1zm0 2v3h3v-3zM301 319h3v1h1v1h1v3h-1v1h-1v1h-3v-1h-1v-1h-1v-3h1v-1h1zm0 2v3h3v-3zM302 319h3v1h1v1h1v3h-1v1h-1v1h-3v-1h-1v-1h-1v-3h1v-1h1zm0 2v3h3v-3zM303 319h3v1h1v1h1v3h-1v1h-1v1h-3v-1h-1v-1h-1v-3h1v-1h1zm0 2v3h3v-3zM304 319h3v1h1v1h1v3h-1v1h-1v1h-3v-1h-1v-1h-1v-3h1v-1h1zm0 2v3h3v-3zM305 319h3v1h1v1h1v3h-1v1h-1v1h-3v-1h-1v-1h-1v-3h1v-1h1zm0 2v3h3v-3zM306 319h3v1h1v1h1v3h-1v1h-1v1h-3v-1h-1v-1h-1v-3h1v-1h1zm0 2v3h3v-3zM307 319h3v1h1v1h1v3h-1v1h-1v1h-3v-1h-1v-1h-1v-3h1v-1h1zm0 2v3h3v-3zM308 319h3v1h1v1h1v3h-1v1h-1v1h-3v-1h-1v-1h-1v-3h1v-1h1zm0 2v3h3v-3zM309 319h3v1h1v1h1v3h-1v1h-1v1h-3v-1h-1v-1h-1v-3h1v-1h1zm0 2v3h3v-3zM310 319h3v1h1v1h1v3h-1v1h-1v1h-3v-1h-1v-1h-1v-3h1v-1h1zm0 2v3h3v-3zM310 320h3v1h1v1h1v3h-1v1h-1v1h-3v-1h-1v-1h-1v-3h1v-1h1zm0 2v3h3v-3zM311 320h3v1h1v1h1v3h-1v1h-1v1h-3v-1h-1v-1h-1v-3h1v-1h1zm0 2v3h3v-3zM312 320h3v1h1v1h1v3h-1v1h-1v1h-3v-1h-1v-1h-1v-3h1v-1h1zm0 2v3h3v-3zM313 320h3v1h1v1h1v3h-1v1h-1v1h-3v-1h-1v-1h-1v-3h1v-1h1zm0 2v3h3v-3zM314 320h3v1h1v1h1v3h-1v1h-1v1h-3v-1h-1v-1h-1v-3h1v-1h1zm0 2v3h3v-3zM315 320h3v1h1v1h1v3h-1v1h-1v1h-3v-1h-1v-1h-1v-3h1v-1h1zm0 2v3h3v-3zM316 320h3v1h1v1h1v3h-1v1h-1v1h-3v-1h-1v-1h-1v-3h1v-1h1zm0 2v3h3v-3zM317 320h3v1h1v1h1v3h-1v1h-1v1h-3v-1h-1v-1h-1v-3h1v-1h1zm0 2v3h3v-3zM318 320h3v1h1v1h1v3h-1v1h-1v1h-3v-1h-1v-1h-1v-3h1v-1h1zm0 2v3h3v-3zM319 320h3v1h1v1h1v3h-1v1h-1v1h-3v-1h-1v-1h-1v-3h1v-1h1zm0 2v3h3v-3zM320 320h3v1h1v1h1v3h-1v1h-1v1h-3v-1h-1v-1h-1v-3h1v-1h1zm0 2v3h3v-3zM321 320h3v1h1v1h1v3h-1v1h-1v1h-3v-1h-1v-1h-1v-3h1v-1h1zm0 2v3h3v-3zM322 320h3v1h1v1h1v3h-1v1h-1v1h-3v-1h-1v-1h-1v-3h1v-1h1zm0 2v3h3v-3zM323 320h3v1h1v1h1v3h-1v1h-1v1h-3v-1h-1v-1h-1v-3h1v-1h1zm0 2v3h3v-3zM324 320h3v1h1v1h1v3h-1v1h-1v1h-3v-1h-1v-1h-1v-3h1v-1h1zm0 2v3h3v-3zM324 321h3v1h1v1h1v3h-1v1h-1v1h-3v-1h-1v-1h-1v-3h1v-1h1zm0 2v3h3v-3zM325 321h3v1h1v1h1v3h-1v1h-1v1h-3v-1h-1v-1h-1v-3h1v-1h1zm0 2v3h3v-3zM326 321h3v1h1v1h1v3h-1v1h-1v1h-3v-1h-1v-1h-1v-3h1v-1h1zm0 2v3h3v-3zM327 321h3v1h1v1h1v3h-1v1h-1v1h-3v-1h-1v-1h-1v-3h1v-1h1zm0 2v3h3v-3zM328 321h3v1h1v1h1v3h-1v1h-1v1h-3v-1h-1v-1h-1v-3h1v-1h1zm0 2v3h3v-3zM329 321h3v1h1v1h1v3h-1v1h-1v1h-3v-1h-1v-1h-1v-3h1v-1h1zm0 2v3h3v-3zM330 321h3v1h1v1h1v3h-1v1h-1v1h-3v-1h-1v-1h-1v-3h1v-1h1zm0 2v3h3v-3zM331 321h3v1h1v1h1v3h-1v1h-1v1h-3v-1h-1v-1h-1v-3h1v-1h1zm0 2v3h3v-3zM332 321h3v1h1v1h1v3h-1v1h-1v1h-3v-1h-1v-1h-1v-3h1v-1h1zm0 2v3h3v-3zM333 321h3v1h1v1h1v3h-1v1h-1v1h-3v-1h-1v-1h-1v-3h1v-1h1zm0 2v3h3v-3zM334 321h3v1h1v1h1v3h-1v1h-1v1h-3v-1h-1v-1h-1v-3h1v-1h1zm0 2v3h3v-3zM335 321h3v1h1v1h1v3h-1v1h-1v1h-3v-1h-1v-1h-1v-3h1v-1h1zm0 2v3h3v-3zM336 321h3v1h1v1h1v3h-1v1h-1v1h-3v-1h-1v-1h-1v-3h1v-1h1zm0 2v3h3v-3zM337 321h3v1h1v1h1v3h-1v1h-1v1h-3v-1h-1v-1h-1v-3h1v-1h1zm0 2v3h3v-3zM338 321h3v1h1v1h1v3h-1v1h-1v1h-3v-1h-1v-1h-1v-3h1v-1h1zm0 2v3h3v-3zM339 321h3v1h1v1h1v3h-1v1h-1v1h-3v-1h-1v-1h-1v-3h1v-1h1zm0 2v3h3v-3zM340 321h3v1h1v1h1v3h-1v1h-1v1h-3v-1h-1v-1h-1v-3h1v-1h1zm0 2v3h3v-3zM341 322h3v1h1v1h1v3h-1v1h-1v1h-3v-1h-1v-1h-1v-3h1v-1h1zm0 2v3h3v-3zM342 322h3v1h1v1h1v3h-1v1h-1v1h-3v-1h-1v-1h-1v-3h1v-1h1zm0 2v3h3v-3zM343 322h3v1h1v1h1v3h-1v1h-1v1h-3v-1h-1v-1h-1v-3h1v-1h1zm0 2v3h3v-3zM344 322h3v1h1v1h1v3h-1v1h-1v1h-3v-1h-1v-1h-1v-3h1v-1h1zm0 2v3h3v-3zM345 322h3v1h1v1h1v3h-1v1h-1v1h-3v-1h-1v-1h-1v-3h1v-1h1zm0 2v3h3v-3zM346 322h3v1h1v1h1v3h-1v1h-1v1h-3v-1h-1v-1h-1v-3h1v-1h1zm0 2v3h3v-3zM347 322h3v1h1v1h1v3h-1v1h-1v1h-3v-1h-1v-1h-1v-3h1v-1h1zm0 2v3h3v-3zM348 322h3v1h1v1h1v3h-1v1h-1v1h-3v-1h-1v-1h-1v-3h1v-1h1zm0 2v3h3v-3zM349 322h3v1h1v1h1v3h-1v1h-1v1h-3v-1h-1v-1h-1v-3h1v-1h1zm0 2v3h3v-3zM350 322h3v1h1v1h1v3h-1v1h-1v1h-3v-1h-1v-1h-1v-3h1v-1h1zm0 2v3h3v-3zM351 322h3v1h1v1h1v3h-1v1h-1v1h-3v-1h-1v-1h-1v-3h1v-1h1zm0 2v3h3v-3zM352 322h3v1h1v1h1v3h-1v1h-1v1h-3v-1h-1v-1h-1v-3h1v-1h1zm0 2v3h3v-3zM353 322h3v1h1v1h1v3h-1v1h-1v1h-3v-1h-1v-1h-1v-3h1v-1h1zm0 2v3h3v-3zM354 322h3v1h1v1h1v3h-1v1h-1v1h-3v-1h-1v-1h-1v-3h1v-1h1zm0 2v3h3v-3zM355 322h3v1h1v1h1v3h-1v1h-1v1h-3v-1h-1v-1h-1v-3h1v-1h1zm0 2v3h3v-3zM356 322h3v1h1v1h1v3h-1v1h-1v1h-3v-1h-1v-1h-1v-3h1v-1h1zm0 2v3h3v-3zM357 322h3v1h1v1h1v3h-1v1h-1v1h-3v-1h-1v-1h-1v-3h1v-1h1zm0 2v3h3v-3zM358 322h3v1h1v1h1v3h-1v1h-1v1h-3v-1h-1v-1h-1v-3h1v-1h1zm0 2v3h3v-3zM359 322h3v1h1v1h1v3h-1v1h-1v1h-3v-1h-1v-1h-1v-3h1v-1h1zm0 2v3h3v-3zM360 323h3v1h1v1h1v3h-1v1h-1v1h-3v-1h-1v-1h-1v-3h1v-1h1zm0 2v3h3v-3zM361 323h3v1h1v1h1v3h-1v1h-1v1h-3v-1h-1v-1h-1v-3h1v-1h1zm0 2v3h3v-3zM362 323h3v1h1v1h1v3h-1v1h-1v1h-3v-1h-1v-1h-1v-3h1v-1h1zm0 2v3h3v-3zM363 323h3v1h1v1h1v3h-1v1h-1v1h-3v-1h-1v-1h-1v-3h1v-1h1zm0 2v3h3v-3zM364 323h3v1h1v1h1v3h-1v1h-1v1h-3v-1h-1v-1h-1v-3h1v-1h1zm0 2v3h3v-3zM365 323h3v1h1v1h1v3h-1v1h-1v1h-3v-1h-1v-1h-1v-3h1v-1h1zm0 2v3h3v-3zM366 323h3v1h1v1h1v3h-1v1h-1v1h-3v-1h-1v-1h-1v-3h1v-1h1zm0 2v3h3v-3zM367 323h3v1h1v1h1v3h-1v1h-1v1h-3v-1h-1v-1h-1v-3h1v-1h1zm0 2v3h3v-3zM368 323h3v1h1v1h1v3h-1v1h-1v1h-3v-1h-1v-1h-1v-3h1v-1h1zm0 2v3h3v-3zM369 323h3v1h1v1h1v3h-1v1h-1v1h-3v-1h-1v-1h-1v-3h1v-1h1zm0 2v3h3v-3zM370 323h3v1h1v1h1v3h-1v1h-1v1h-3v-1h-1v-1h-1v-3h1v-1h1zm0 2v3h3v-3zM371 323h3v1h1v1h1v3h-1v1h-1v1h-3v-1h-1v-1h-1v-3h1v-1h1zm0 2v3h3v-3zM372 323h3v1h1v1h1v3h-1v1h-1v1h-3v-1h-1v-1h-1v-3h1v-1h1zm0 2v3h3v-3zM373 323h3v1h1v1h1v3h-1v1h-1v1h-3v-1h-1v-1h-1v-3h1v-1h1zm0 2v3h3v-3zM374 323h3v1h1v1h1v3h-1v1h-1v1h-3v-1h-1v-1h-1v-3h1v-1h1zm0 2v3h3v-3zM375 323h3v1h1v1h1v3h-1v1h-1v1h-3v-1h-1v-1h-1v-3h1v-1h1zm0 2v3h3v-3zM376 323h3v1h1v1h1v3h-1v1h-1v1h-3v-1h-1v-1h-1v-3h1v-1h1zm0 2v3h3v-3zM377 323h3v1h1v1h1v3h-1v1h-1v1h-3v-1h-1v-1h-1v-3h1v-1h1zm0 2v3h3v-3zM378 323h3v1h1v1h1v3h-1v1h-1v1h-3v-1h-1v-1h-1v-3h1v-1h1zm0 2v3h3v-3zM379 323h3v1h1v1h1v3h-1v1h-1v1h-3v-1h-1v-1h-1v-3h1v-1h1zm0 2v3h3v-3zM380 323h3v1h1v1h1v3h-1v1h-1v1h-3v-1h-1v-1h-1v-3h1v-1h1zm0 2v3h3v-3zM381 323h3v1h1v1h1v3h-1v1h-1v1h-3v-1h-1v-1h-1v-3h1v-1h1zm0 2v3h3v-3zM382 323h3v1h1v1h1v3h-1v1h-1v1h-3v-1h-1v-1h-1v-3h1v-1h1zm0 2v3h3v-3zM382 324h3v1h1v1h1v3h-1v1h-1v1h-3v-1h-1v-1h-1v-3h1v-1h1zm0 2v3h3v-3zM383 324h3v1h1v1h1v3h-1v1h-1v1h-3v-1h-1v-1h-1v-3h1v-1h1zm0 2v3h3v-3zM384 324h3v1h1v1h1v3h-1v1h-1v1h-3v-1h-1v-1h-1v-3h1v-1h1zm0 2v3h3v-3zM385 324h3v1h1v1h1v3h-1v1h-1v1h-3v-1h-1v-1h-1v-3h1v-1h1zm0 2v3h3v-3zM386 324h3v1h1v1h1v3h-1v1h-1v1h-3v-1h-1v-1h-1v-3h1v-1h1zm0 2v3h3v-3zM387 324h3v1h1v1h1v3h-1v1h-1v1h-3v-1h-1v-1h-1v-3h1v-1h1zm0 2v3h3v-3zM388 324h3v1h1v1h1v3h-1v1h-1v1h-3v-1h-1v-1h-1v-3h1v-1h1zm0 2v3h3v-3zM389 324h3v1h1v1h1v3h-1v1h-1v1h-3v-1h-1v-1h-1v-3h1v-1h1zm0 2v3h3v-3zM390 324h3v1h1v1h1v3h-1v1h-1v1h-3v-1h-1v-1h-1v-3h1v-1h1zm0 2v3h3v-3zM391 324h3v1h1v1h1v3h-1v1h-1v1h-3v-1h-1v-1h-1v-3h1v-1h1zm0 2v3h3v-3zM392 324h3v1h1v1h1v3h-1v1h-1v1h-3v-1h-1v-1h-1v-3h1v-1h1zm0 2v3h3v-3zM393 324h3v1h1v1h1v3h-1v1h-1v1h-3v-1h-1v-1h-1v-3h1v-1h1zm0 2v3h3v-3zM394 324h3v1h1v1h1v3h-1v1h-1v1h-3v-1h-1v-1h-1v-3h1v-1h1zm0 2v3h3v-3zM395 324h3v1h1v1h1v3h-1v1h-1v1h-3v-1h-1v-1h-1v-3h1v-1h1zm0 2v3h3v-3zM396 324h3v1h1v1h1v3h-1v1h-1v1h-3v-1h-1v-1h-1v-3h1v-1h1zm0 2v3h3v-3zM397 324h3v1h1v1h1v3h-1v1h-1v1h-3v-1h-1v-1h-1v-3h1v-1h1zm0 2v3h3v-3zM398 324h3v1h1v1h1v3h-1v1h-1v1h-3v-1h-1v-1h-1v-3h1v-1h1zm0 2v3h3v-3zM399 324h3v1h1v1h1v3h-1v1h-1v1h-3v-1h-1v-1h-1v-3h1v-1h1zm0 2v3h3v-3zM400 324h3v1h1v1h1v3h-1v1h-1v1h-3v-1h-1v-1h-1v-3h1v-1h1zm0 2v3h3v-3zM401 324h3v1h1v1h1v3h-1v1h-1v1h-3v-1h-1v-1h-1v-3h1v-1h1zm0 2v3h3v-3zM402 324h3v1h1v1h1v3h-1v1h-1v1h-3v-1h-1v-1h-1v-3h1v-1h1zm0 2v3h3v-3zM403 324h3v1h1v1h1v3h-1v1h-1v1h-3v-1h-1v-1h-1v-3h1v-1h1zm0 2v3h3v-3zM404 324h3v1h1v1h1v3h-1v1h-1v1h-3v-1h-1v-1h-1v-3h1v-1h1zm0 2v3h3v-3zM405 325h3v1h1v1h1v3h-1v1h-1v1h-3v-1h-1v-1h-1v-3h1v-1h1zm0 2v3h3v-3zM406 325h3v1h1v1h1v3h-1v1h-1v1h-3v-1h-1v-1h-1v-3h1v-1h1zm0 2v3h3v-3zM407 325h3v1h1v1h1v3h-1v1h-1v1h-3v-1h-1v-1h-1v-3h1v-1h1zm0 2v3h3v-3zM408 325h3v1h1v1h1v3h-1v1h-1v1h-3v-1h-1v-1h-1v-3h1v-1h1zm0 2v3h3v-3zM409 325h3v1h1v1h1v3h-1v1h-1v1h-3v-1h-1v-1h-1v-3h1v-1h1zm0 2v3h3v-3zM410 325h3v1h1v1h1v3h-1v1h-1v1h-3v-1h-1v-1h-1v-3h1v-1h1zm0 2v3h3v-3zM411 325h3v1h1v1h1v3h-1v1h-1v1h-3v-1h-1v-1h-1v-3h1v-1h1zm0 2v3h3v-3zM412 325h3v1h1v1h1v3h-1v1h-1v1h-3v-1h-1v-1h-1v-3h1v-1h1zm0 2v3h3v-3zM413 325h3v1h1v1h1v3h-1v1h-1v1h-3v-1h-1v-1h-1v-3h1v-1h1zm0 2v3h3v-3zM414 325h3v1h1v1h1v3h-1v1h-1v1h-3v-1h-1v-1h-1v-3h1v-1h1zm0 2v3h3v-3zM415 325h3v1h1v1h1v3h-1v1h-1v1h-3v-1h-1v-1h-1v-3h1v-1h1zm0 2v3h3v-3zM416 325h3v1h1v1h1v3h-1v1h-1v1h-3v-1h-1v-1h-1v-3h1v-1h1zm0 2v3h3v-3zM417 325h3v1h1v1h1v3h-1v1h-1v1h-3v-1h-1v-1h-1v-3h1v-1h1zm0 2v3h3v-3zM418 325h3v1h1v1h1v3h-1v1h-1v1h-3v-1h-1v-1h-1v-3h1v-1h1zm0 2v3h3v-3zM419 325h3v1h1v1h1v3h-1v1h-1v1h-3v-1h-1v-1h-1v-3h1v-1h1zm0 2v3h3v-3zM420 325h3v1h1v1h1v3h-1v1h-1v1h-3v-1h-1v-1h-1v-3h1v-1h1zm0 2v3h3v-3zM421 325h3v1h1v1h1v3h-1v1h-1v1h-3v-1h-1v-1h-1v-3h1v-1h1zm0 2v3h3v-3zM422 325h3v1h1v1h1v3h-1v1h-1v1h-3v-1h-1v-1h-1v-3h1v-1h1zm0 2v3h3v-3zM423 325h3v1h1v1h1v3h-1v1h-1v1h-3v-1h-1v-1h-1v-3h1v-1h1zm0 2v3h3v-3zM424 325h3v1h1v1h1v3h-1v1h-1v1h-3v-1h-1v-1h-1v-3h1v-1h1zm0 2v3h3v-3zM425 325h3v1h1v1h1v3h-1v1h-1v1h-3v-1h-1v-1h-1v-3h1v-1h1zm0 2v3h3v-3zM426 325h3v1h1v1h1v3h-1v1h-1v1h-3v-1h-1v-1h-1v-3h1v-1h1zm0 2v3h3v-3zM427 325h3v1h1v1h1v3h-1v1h-1v1h-3v-1h-1v-1h-1v-3h1v-1h1zm0 2v3h3v-3zM428 325h3v1h1v1h1v3h-1v1h-1v1h-3v-1h-1v-1h-1v-3h1v-1h1zm0 2v3h3v-3zM429 325h3v1h1v1h1v3h-1v1h-1v1h-3v-1h-1v-1h-1v-3h1v-1h1zm0 2v3h3v-3zM430 325h3v1h1v1h1v3h-1v1h-1v1h-3v-1h-1v-1h-1v-3h1v-1h1zm0 2v3h3v-3zM430 326h3v1h1v1h1v3h-1v1h-1v1h-3v-1h-1v-1h-1v-3h1v-1h1zm0 2v3h3v-3zM431 326h3v1h1v1h1v3h-1v1h-1v1h-3v-1h-1v-1h-1v-3h1v-1h1zm0 2v3h3v-3zM432 326h3v1h1v1h1v3h-1v1h-1v1h-3v-1h-1v-1h-1v-3h1v-1h1zm0 2v3h3v-3zM433 326h3v1h1v1h1v3h-1v1h-1v1h-3v-1h-1v-1h-1v-3h1v-1h1zm0 2v3h3v-3zM434 326h3v1h1v1h1v3h-1v1h-1v1h-3v-1h-1v-1h-1v-3h1v-1h1zm0 2v3h3v-3zM435 326h3v1h1v1h1v3h-1v1h-1v1h-3v-1h-1v-1h-1v-3h1v-1h1zm0 2v3h3v-3zM436 326h3v1h1v1h1v3h-1v1h-1v1h-3v-1h-1v-1h-1v-3h1v-1h1zm0 2v3h3v-3zM437 326h3v1h1v1h1v3h-1v1h-1v1h-3v-1h-1v-1h-1v-3h1v-1h1zm0 2v3h3v-3zM438 326h3v1h1v1h1v3h-1v1h-1v1h-3v-1h-1v-1h-1v-3h1v-1h1zm0 2v3h3v-3zM439 326h3v1h1v1h1v3h-1v1h-1v1h-3v-1h-1v-1h-1v-3h1v-1h1zm0 2v3h3v-3zM440 326h3v1h1v1h1v3h-1v1h-1v1h-3v-1h-1v-1h-1v-3h1v-1h1zm0 2v3h3v-3zM441 326h3v1h1v1h1v3h-1v1h-1v1h-3v-1h-1v-1h-1v-3h1v-1h1zm0 2v3h3v-3zM442 326h3v1h1v1h1v3h-1v1h-1v1h-3v-1h-1v-1h-1v-3h1v-1h1zm0 2v3h3v-3zM443 326h3v1h1v1h1v3h-1v1h-1v1h-3v-1h-1v-1h-1v-3h1v-1h1zm0 2v3h3v-3zM444 326h3v1h1v1h1v3h-1v1h-1v1h-3v-1h-1v-1h-1v-3h1v-1h1zm0 2v3h3v-3zM445 326h3v1h1v1h1v3h-1v1h-1v1h-3v-1h-1v-1h-1v-3h1v-1h1zm0 2v3h3v-3zM446 326h3v1h1v1h1v3h-1v1h-1v1h-3v-1h-1v-1h-1v-3h1v-1h1zm0 2v3h3v-3zM447 326h3v1h1v1h1v3h-1v1h-1v1h-3v-1h-1v-1h-1v-3h1v-1h1zm0 2v3h3v-3zM448 326h3v1h1v1h1v3h-1v1h-1v1h-3v-1h-1v-1h-1v-3h1v-1h1zm0 2v3h3v-3zM449 326h3v1h1v1h1v3h-1v1h-1v1h-3v-1h-1v-1h-1v-3h1v-1h1zm0 2v3h3v-3zM450 326h3v1h1v1h1v3h-1v1h-1v1h-3v-1h-1v-1h-1v-3h1v-1h1zm0 2v3h3v-3zM451 326h3v1h1v1h1v3h-1v1h-1v1h-3v-1h-1v-1h-1v-3h1v-1h1zm0 2v3h3v-3zM452 326h3v1h1v1h1v3h-1v1h-1v1h-3v-1h-1v-1h-1v-3h1v-1h1zm0 2v3h3v-3zM453 326h3v1h1v1h1v3h-1v1h-1v1h-3v-1h-1v-1h-1v-3h1v-1h1zm0 2v3h3v-3zM453 327h3v1h1v1h1v3h-1v1h-1v1h-3v-1h-1v-1h-1v-3h1v-1h1zm0 2v3h3v-3zM454 327h3v1h1v1h1v3h-1v1h-1v1h-3v-1h-1v-1h-1v-3h1v-1h1zm0 2v3h3v-3zM455 327h3v1h1v1h1v3h-1v1h-1v1h-3v-1h-1v-1h-1v-3h1v-1h1zm0 2v3h3v-3zM456 327h3v1h1v1h1v3h-1v1h-1v1h-3v-1h-1v-1h-1v-3h1v-1h1zm0 2v3h3v-3zM457 327h3v1h1v1h1v3h-1v1h-1v1h-3v-1h-1v-1h-1v-3h1v-1h1zm0 2v3h3v-3zM458 327h3v1h1v1h1v3h-1v1h-1v1h-3v-1h-1v-1h-1v-3h1v-1h1zm0 2v3h3v-3zM459 327h3v1h1v1h1v3h-1v1h-1v1h-3v-1h-1v-1h-1v-3h1v-1h1zm0 2v3h3v-3zM460 327h3v1h1v1h1v3h-1v1h-1v1h-3v-1h-1v-1h-1v-3h1v-1h1zm0 2v3h3v-3zM461 327h3v1h1v1h1v3h-1v1h-1v1h-3v-1h-1v-1h-1v-3h1v-1h1zm0 2v3h3v-3zM462 327h3v1h1v1h1v3h-1v1h-1v1h-3v-1h-1v-1h-1v-3h1v-1h1zm0 2v3h3v-3zM463 327h3v1h1v1h1v3h-1v1h-1v1h-3v-1h-1v-1h-1v-3h1v-1h1zm0 2v3h3v-3zM464 327h3v1h1v1h1v3h-1v1h-1v1h-3v-1h-1v-1h-1v-3h1v-1h1zm0 2v3h3v-3zM465 327h3v1h1v1h1v3h-1v1h-1v1h-3v-1h-1v-1h-1v-3h1v-1h1zm0 2v3h3v-3zM466 327h3v1h1v1h1v3h-1v1h-1v1h-3v-1h-1v-1h-1v-3h1v-1h1zm0 2v3h3v-3zM467 327h3v1h1v1h1v3h-1v1h-1v1h-3v-1h-1v-1h-1v-3h1v-1h1zm0 2v3h3v-3zM468 327h3v1h1v1h1v3h-1v1h-1v1h-3v-1h-1v-1h-1v-3h1v-1h1zm0 2v3h3v-3zM469 327h3v1h1v1h1v3h-1v1h-1v1h-3v-1h-1v-1h-1v-3h1v-1h1zm0 2v3h3v-3zM470 327h3v1h1v1h1v3h-1v1h-1v1h-3v-1h-1v-1h-1v-3h1v-1h1zm0 2v3h3v-3zM470 328h3v1h1v1h1v3h-1v1h-1v1h-3v-1h-1v-1h-1v-3h1v-1h1zm0 2v3h3v-3zM471 328h3v1h1v1h1v3h-1v1h-1v1h-3v-1h-1v-1h-1v-3h1v-1h1zm0 2v3h3v-3zM472 328h3v1h1v1h1v3h-1v1h-1v1h-3v-1h-1v-1h-1v-3h1v-1h1zm0 2v3h3v-3zM473 328h3v1h1v1h1v3h-1v1h-1v1h-3v-1h-1v-1h-1v-3h1v-1h1zm0 2v3h3v-3zM474 328h3v1h1v1h1v3h-1v1h-1v1h-3v-1h-1v-1h-1v-3h1v-1h1zm0 2v3h3v-3zM475 328h3v1h1v1h1v3h-1v1h-1v1h-3v-1h-1v-1h-1v-3h1v-1h1zm0 2v3h3v-3zM476 328h3v1h1v1h1v3h-1v1h-1v1h-3v-1h-1v-1h-1v-3h1v-1h1zm0 2v3h3v-3zM477 328h3v1h1v1h1v3h-1v1h-1v1h-3v-1h-1v-1h-1v-3h1v-1h1zm0 2v3h3v-3zM478 328h3v1h1v1h1v3h-1v1h-1v1h-3v-1h-1v-1h-1v-3h1v-1h1zm0 2v3h3v-3zM479 328h3v1h1v1h1v3h-1v1h-1v1h-3v-1h-1v-1h-1v-3h1v-1h1zm0 2v3h3v-3zM480 328h3v1h1v1h1v3h-1v1h-1v1h-3v-1h-1v-1h-1v-3h1v-1h1zm0 2v3h3v-3zM481 328h3v1h1v1h1v3h-1v1h-1v1h-3v-1h-1v-1h-1v-3h1v-1h1zm0 2v3h3v-3zM482 328h3v1h1v1h1v3h-1v1h-1v1h-3v-1h-1v-1h-1v-3h1v-1h1zm0 2v3h3v-3zM483 328h3v1h1v1h1v3h-1v1h-1v1h-3v-1h-1v-1h-1v-3h1v-1h1zm0 2v3h3v-3zM484 328h3v1h1v1h1v3h-1v1h-1v1h-3v-1h-1v-1h-1v-3h1v-1h1zm0 2v3h3v-3zM485 328h3v1h1v1h1v3h-1v1h-1v1h-3v-1h-1v-1h-1v-3h1v-1h1zm0 2v3h3v-3zM486 328h3v1h1v1h1v3h-1v1h-1v1h-3v-1h-1v-1h-1v-3h1v-1h1zm0 2v3h3v-3zM486 329h3v1h1v1h1v3h-1v1h-1v1h-3v-1h-1v-1h-1v-3h1v-1h1zm0 2v3h3v-3zM487 329h3v1h1v1h1v3h-1v1h-1v1h-3v-1h-1v-1h-1v-3h1v-1h1zm0 2v3h3v-3zM488 329h3v1h1v1h1v3h-1v1h-1v1h-3v-1h-1v-1h-1v-3h1v-1h1zm0 2v3h3v-3zM489 329h3v1h1v1h1v3h-1v1h-1v1h-3v-1h-1v-1h-1v-3h1v-1h1zm0 2v3h3v-3zM490 329h3v1h1v1h1v3h-1v1h-1v1h-3v-1h-1v-1h-1v-3h1v-1h1zm0 2v3h3v-3zM491 329h3v1h1v1h1v3h-1v1h-1v1h-3v-1h-1v-1h-1v-3h1v-1h1zm0 2v3h3v-3zM492 329h3v1h1v1h1v3h-1v1h-1v1h-3v-1h-1v-1h-1v-3h1v-1h1zm0 2v3h3v-3zM493 329h3v1h1v1h1v3h-1v1h-1v1h-3v-1h-1v-1h-1v-3h1v-1h1zm0 2v3h3v-3zM494 329h3v1h1v1h1v3h-1v1h-1v1h-3v-1h-1v-1h-1v-3h1v-1h1zm0 2v3h3v-3zM495 329h3v1h1v1h1v3h-1v1h-1v1h-3v-1h-1v-1h-1v-3h1v-1h1zm0 2v3h3v-3zM496 329h3v1h1v1h1v3h-1v1h-1v1h-3v-1h-1v-1h-1v-3h1v-1h1zm0 2v3h3v-3zM497 329h3v1h1v1h1v3h-1v1h-1v1h-3v-1h-1v-1h-1v-3h1v-1h1zm0 2v3h3v-3zM498 329h3v1h1v1h1v3h-1v1h-1v1h-3v-1h-1v-1h-1v-3h1v-1h1zm0 2v3h3v-3zM499 329h3v1h1v1h1v3h-1v1h-1v1h-3v-1h-1v-1h-1v-3h1v-1h1zm0 2v3h3v-3zM500 329h3v1h1v1h1v3h-1v1h-1v1h-3v-1h-1v-1h-1v-3h1v-1h1zm0 2v3h3v-3zM500 330h3v1h1v1h1v3h-1v1h-1v1h-3v-1h-1v-1h-1v-3h1v-1h1zm0 2v3h3v-3zM501 330h3v1h1v1h1v3h-1v1h-1v1h-3v-1h-1v-1h-1v-3h1v-1h1zm0 2v3h3v-3zM502 330h3v1h1v1h1v3h-1v1h-1v1h-3v-1h-1v-1h-1v-3h1v-1h1zm0 2v3h3v-3zM503 330h3v1h1v1h1v3h-1v1h-1v1h-3v-1h-1v-1h-1v-3h1v-1h1zm0 2v3h3v-3zM504 330h3v1h1v1h1v3h-1v1h-1v1h-3v-1h-1v-1h-1v-3h1v-1h1zm0 2v3h3v-3zM505 330h3v1h1v1h1v3h-1v1h-1v1h-3v-1h-1v-1h-1v-3h1v-1h1zm0 2v3h3v-3zM506 330h3v1h1v1h1v3h-1v1h-1v1h-3v-1h-1v-1h-1v-3h1v-1h1zm0 2v3h3v-3zM507 330h3v1h1v1h1v3h-1v1h-1v1h-3v-1h-1v-1h-1v-3h1v-1h1zm0 2v3h3v-3zM508 330h3v1h1v1h1v3h-1v1h-1v1h-3v-1h-1v-1h-1v-3h1v-1h1zm0 2v3h3v-3zM509 330h3v1h1v1h1v3h-1v1h-1v1h-3v-1h-1v-1h-1v-3h1v-1h1zm0 2v3h3v-3zM510 330h3v1h1v1h1v3h-1v1h-1v1h-3v-1h-1v-1h-1v-3h1v-1h1zm0 2v3h3v-3zM511 330h3v1h1v1h1v3h-1v1h-1v1h-3v-1h-1v-1h-1v-3h1v-1h1zm0 2v3h3v-3zM512 330h3v1h1v1h1v3h-1v1h-1v1h-3v-1h-1v-1h-1v-3h1v-1h1zm0 2v3h3v-3zM513 330h3v1h1v1h1v3h-1v1h-1v1h-3v-1h-1v-1h-1v-3h1v-1h1zm0 2v3h3v-3zM514 330h3v1h1v1h1v3h-1v1h-1v1h-3v-1h-1v-1h-1v-3h1v-1h1zm0 2v3h3v-3zM515 330h3v1h1v1h1v3h-1v1h-1v1h-3v-1h-1v-1h-1v-3h1v-1h1zm0 2v3h3v-3zM515 331h3v1h1v1h1v3h-1v1h-1v1h-3v-1h-1v-1h-1v-3h1v-1h1zm0 2v3h3v-3zM516 331h3v1h1v1h1v3h-1v1h-1v1h-3v-1h-1v-1h-1v-3h1v-1h1zm0 2v3h3v-3zM517 331h3v1h1v1h1v3h-1v1h-1v1h-3v-1h-1v-1h-1v-3h1v-1h1zm0 2v3h3v-3zM518 331h3v1h1v1h1v3h-1v1h-1v1h-3v-1h-1v-1h-1v-3h1v-1h1zm0 2v3h3v-3zM519 331h3v1h1v1h1v3h-1v1h-1v1h-3v-1h-1v-1h-1v-3h1v-1h1zm0 2v3h3v-3zM520 331h3v1h1v1h1v3h-1v1h-1v1h-3v-1h-1v-1h-1v-3h1v-1h1zm0 2v3h3v-3zM521 331h3v1h1v1h1v3h-1v1h-1v1h-3v-1h-1v-1h-1v-3h1v-1h1zm0 2v3h3v-3zM522 331h3v1h1v1h1v3h-1v1h-1v1h-3v-1h-1v-1h-1v-3h1v-1h1zm0 2v3h3v-3zM523 331h3v1h1v1h1v3h-1v1h-1v1h-3v-1h-1v-1h-1v-3h1v-1h1zm0 2v3h3v-3zM524 331h3v1h1v1h1v3h-1v1h-1v1h-3v-1h-1v-1h-1v-3h1v-1h1zm0 2v3h3v-3zM525 331h3v1h1v1h1v3h-1v1h-1v1h-3v-1h-1v-1h-1v-3h1v-1h1zm0 2v3h3v-3zM526 331h3v1h1v1h1v3h-1v1h-1v1h-3v-1h-1v-1h-1v-3h1v-1h1zm0 2v3h3v-3zM527 331h3v1h1v1h1v3h-1v1h-1v1h-3v-1h-1v-1h-1v-3h1v-1h1zm0 2v3h3v-3zM528 331h3v1h1v1h1v3h-1v1h-1v1h-3v-1h-1v-1h-1v-3h1v-1h1zm0 2v3h3v-3zM529 332h3v1h1v1h1v3h-1v1h-1v1h-3v-1h-1v-1h-1v-3h1v-1h1zm0 2v3h3v-3zM530 332h3v1h1v1h1v3h-1v1h-1v1h-3v-1h-1v-1h-1v-3h1v-1h1zm0 2v3h3v-3zM531 332h3v1h1v1h1v3h-1v1h-1v1h-3v-1h-1v-1h-1v-3h1v-1h1zm0 2v3h3v-3zM532 332h3v1h1v1h1v3h-1v1h-1v1h-3v-1h-1v-1h-1v-3h1v-1h1zm0 2v3h3v-3zM533 332h3v1h1v1h1v3h-1v1h-1v1h-3v-1h-1v-1h-1v-3h1v-1h1zm0 2v3h3v-3zM534 332h3v1h1v1h1v3h-1v1h-1v1h-3v-1h-1v-1h-1v-3h1v-1h1zm0 2v3h3v-3zM535 332h3v1h1v1h1v3h-1v1h-1v1h-3v-1h-1v-1h-1v-3h1v-1h1zm0 2v3h3v-3zM536 332h3v1h1v1h1v3h-1v1h-1v1h-3v-1h-1v-1h-1v-3h1v-1h1zm0 2v3h3v-3zM537 332h3v1h1v1h1v3h-1v1h-1v1h-3v-1h-1v-1h-1v-3h1v-1h1zm0 2v3h3v-3zM538 332h3v1h1v1h1v3h-1v1h-1v1h-3v-1h-1v-1h-1v-3h1v-1h1zm0 2v3h3v-3zM539 332h3v1h1v1h1v3h-1v1h-1v1h-3v-1h-1v-1h-1v-3h1v-1h1zm0 2v3h3v-3zM540 332h3v1h1v1h1v3h-1v1h-1v1h-3v-1h-1v-1h-1v-3h1v-1h1zm0 2v3h3v-3zM541 332h3v1h1v1h1v3h-1v1h-1v1h-3v-1h-1v-1h-1v-3h1v-1h1zm0 2v3h3v-3zM542 332h3v1h1v1h1v3h-1v1h-1v1h-3v-1h-1v-1h-1v-3h1v-1h1zm0 2v3h3v-3zM542 333h3v1h1v1h1v3h-1v1h-1v1h-3v-1h-1v-1h-1v-3h1v-1h1zm0 2v3h3v-3zM543 333h3v1h1v1h1v3h-1v1h-1v1h-3v-1h-1v-1h-1v-3h1v-1h1zm0 2v3h3v-3zM544 333h3v1h1v1h1v3h-1v1h-1v1h-3v-1h-1v-1h-1v-3h1v-1h1zm0 2v3h3v-3zM545 333h3v1h1v1h1v3h-1v1h-1v1h-3v-1h-1v-1h-1v-3h1v-1h1zm0 2v3h3v-3zM546 333h3v1h1v1h1v3h-1v1h-1v1h-3v-1h-1v-1h-1v-3h1v-1h1zm0 2v3h3v-3zM547 333h3v1h1v1h1v3h-1v1h-1v1h-3v-1h-1v-1h-1v-3h1v-1h1zm0 2v3h3v-3zM548 333h3v1h1v1h1v3h-1v1h-1v1h-3v-1h-1v-1h-1v-3h1v-1h1zm0 2v3h3v-3zM549 333h3v1h1v1h1v3h-1v1h-1v1h-3v-1h-1v-1h-1v-3h1v-1h1zm0 2v3h3v-3zM550 333h3v1h1v1h1v3h-1v1h-1v1h-3v-1h-1v-1h-1v-3h1v-1h1zm0 2v3h3v-3zM551 333h3v1h1v1h1v3h-1v1h-1v1h-3v-1h-1v-1h-1v-3h1v-1h1zm0 2v3h3v-3zM552 333h3v1h1v1h1v3h-1v1h-1v1h-3v-1h-1v-1h-1v-3h1v-1h1zm0 2v3h3v-3zM553 333h3v1h1v1h1v3h-1v1h-1v1h-3v-1h-1v-1h-1v-3h1v-1h1zm0 2v3h3v-3zM554 333h3v1h1v1h1v3h-1v1h-1v1h-3v-1h-1v-1h-1v-3h1v-1h1zm0 2v3h3v-3zM555 333h3v1h1v1h1v3h-1v1h-1v1h-3v-1h-1v-1h-1v-3h1v-1h1zm0 2v3h3v-3zM555 334h3v1h1v1h1v3h-1v1h-1v1h-3v-1h-1v-1h-1v-3h1v-1h1zm0 2v3h3v-3zM556 334h3v1h1v1h1v3h-1v1h-1v1h-3v-1h-1v-1h-1v-3h1v-1h1zm0 2v3h3v-3zM557 334h3v1h1v1h1v3h-1v1h-1v1h-3v-1h-1v-1h-1v-3h1v-1h1zm0 2v3h3v-3zM558 334h3v1h1v1h1v3h-1v1h-1v1h-3v-1h-1v-1h-1v-3h1v-1h1zm0 2v3h3v-3zM559 334h3v1h1v1h1v3h-1v1h-1v1h-3v-1h-1v-1h-1v-3h1v-1h1zm0 2v3h3v-3zM560 334h3v1h1v1h1v3h-1v1h-1v1h-3v-1h-1v-1h-1v-3h1v-1h1zm0 2v3h3v-3zM561 334h3v1h1v1h1v3h-1v1h-1v1h-3v-1h-1v-1h-1v-3h1v-1h1zm0 2v3h3v-3zM562 334h3v1h1v1h1v3h-1v1h-1v1h-3v-1h-1v-1h-1v-3h1v-1h1zm0 2v3h3v-3zM563 334h3v1h1v1h1v3h-1v1h-1v1h-3v-1h-1v-1h-1v-3h1v-1h1zm0 2v3h3v-3zM564 334h3v1h1v1h1v3h-1v1h-1v1h-3v-1h-1v-1h-1v-3h1v-1h1zm0 2v3h3v-3zM565 334h3v1h1v1h1v3h-1v1h-1v1h-3v-1h-1v-1h-1v-3h1v-1h1zm0 2v3h3v-3zM566 334h3v1h1v1h1v3h-1v1h-1v1h-3v-1h-1v-1h-1v-3h1v-1h1zm0 2v3h3v-3zM567 334h3v1h1v1h1v3h-1v1h-1v1h-3v-1h-1v-1h-1v-3h1v-1h1zm0 2v3h3v-3zM568 334h3v1h1v1h1v3h-1v1h-1v1h-3v-1h-1v-1h-1v-3h1v-1h1zm0 2v3h3v-3zM569 335h3v1h1v1h1v3h-1v1h-1v1h-3v-1h-1v-1h-1v-3h1v-1h1zm0 2v3h3v-3zM570 335h3v1h1v1h1v3h-1v1h-1v1h-3v-1h-1v-1h-1v-3h1v-1h1zm0 2v3h3v-3zM571 335h3v1h1v1h1v3h-1v1h-1v1h-3v-1h-1v-1h-1v-3h1v-1h1zm0 2v3h3v-3zM572 335h3v1h1v1h1v3h-1v1h-1v1h-3v-1h-1v-1h-1v-3h1v-1h1zm0 2v3h3v-3zM573 335h3v1h1v1h1v3h-1v1h-1v1h-3v-1h-1v-1h-1v-3h1v-1h1zm0 2v3h3v-3zM574 335h3v1h1v1h1v3h-1v1h-1v1h-3v-1h-1v-1h-1v-3h1v-1h1zm0 2v3h3v-3zM575 335h3v1h1v1h1v3h-1v1h-1v1h-3v-1h-1v-1h-1v-3h1v-1h1zm0 2v3h3v-3zM576 335h3v1h1v1h1v3h-1v1h-1v1h-3v-1h-1v-1h-1v-3h1v-1h1zm0 2v3h3v-3zM577 335h3v1h1v1h1v3h-1v1h-1v1h-3v-1h-1v-1h-1v-3h1v-1h1zm0 2v3h3v-3zM577 336h3v1h1v1h1v3h-1v1h-1v1h-3v-1h-1v-1h-1v-3h1v-1h1zm0 2v3h3v-3zM578 336h3v1h1v1h1v3h-1v1h-1v1h-3v-1h-1v-1h-1v-3h1v-1h1zm0 2v3h3v-3zM579 336h3v1h1v1h1v3h-1v1h-1v1h-3v-1h-1v-1h-1v-3h1v-1h1zm0 2v3h3v-3zM580 336h3v1h1v1h1v3h-1v1h-1v1h-3v-1h-1v-1h-1v-3h1v-1h1zm0 2v3h3v-3zM581 336h3v1h1v1h1v3h-1v1h-1v1h-3v-1h-1v-1h-1v-3h1v-1h1zm0 2v3h3v-3zM582 336h3v1h1v1h1v3h-1v1h-1v1h-3v-1h-1v-1h-1v-3h1v-1h1zm0 2v3h3v-3zM583 336h3v1h1v1h1v3h-1v1h-1v1h-3v-1h-1v-1h-1v-3h1v-1h1zm0 2v3h3v-3zM584 336h3v1h1v1h1v3h-1v1h-1v1h-3v-1h-1v-1h-1v-3h1v-1h1zm0 2v3h3v-3zM585 336h3v1h1v1h1v3h-1v1h-1v1h-3v-1h-1v-1h-1v-3h1v-1h1zm0 2v3h3v-3zM585 337h3v1h1v1h1v3h-1v1h-1v1h-3v-1h-1v-1h-1v-3h1v-1h1zm0 2v3h3v-3zM586 337h3v1h1v1h1v3h-1v1h-1v1h-3v-1h-1v-1h-1v-3h1v-1h1zm0 2v3h3v-3zM587 337h3v1h1v1h1v3h-1v1h-1v1h-3v-1h-1v-1h-1v-3h1v-1h1zm0 2v3h3v-3zM588 337h3v1h1v1h1v3h-1v1h-1v1h-3v-1h-1v-1h-1v-3h1v-1h1zm0 2v3h3v-3zM589 337h3v1h1v1h1v3h-1v1h-1v1h-3v-1h-1v-1h-1v-3h1v-1h1zm0 2v3h3v-3zM590 337h3v1h1v1h1v3h-1v1h-1v1h-3v-1h-1v-1h-1v-3h1v-1h1zm0 2v3h3v-3zM591 337h3v1h1v1h1v3h-1v1h-1v1h-3v-1h-1v-1h-1v-3h1v-1h1zm0 2v3h3v-3zM592 337h3v1h1v1h1v3h-1v1h-1v1h-3v-1h-1v-1h-1v-3h1v-1h1zm0 2v3h3v-3zM593 337h3v1h1v1h1v3h-1v1h-1v1h-3v-1h-1v-1h-1v-3h1v-1h1zm0 2v3h3v-3zM594 338h3v1h1v1h1v3h-1v1h-1v1h-3v-1h-1v-1h-1v-3h1v-1h1zm0 2v3h3v-3zM595 338h3v1h1v1h1v3h-1v1h-1v1h-3v-1h-1v-1h-1v-3h1v-1h1zm0 2v3h3v-3zM596 338h3v1h1v1h1v3h-1v1h-1v1h-3v-1h-1v-1h-1v-3h1v-1h1zm0 2v3h3v-3zM597 338h3v1h1v1h1v3h-1v1h-1v1h-3v-1h-1v-1h-1v-3h1v-1h1zm0 2v3h3v-3zM598 339h3v1h1v1h1v3h-1v1h-1v1h-3v-1h-1v-1h-1v-3h1v-1h1zm0 2v3h3v-3zM599 339h3v1h1v1h1v3h-1v1h-1v1h-3v-1h-1v-1h-1v-3h1v-1h1zm0 2v3h3v-3zM600 339h3v1h1v1h1v3h-1v1h-1v1h-3v-1h-1v-1h-1v-3h1v-1h1zm0 2v3h3v-3zM601 339h3v1h1v1h1v3h-1v1h-1v1h-3v-1h-1v-1h-1v-3h1v-1h1zm0 2v3h3v-3zM602 340h3v1h1v1h1v3h-1v1h-1v1h-3v-1h-1v-1h-1v-3h1v-1h1zm0 2v3h3v-3zM603 340h3v1h1v1h1v3h-1v1h-1v1h-3v-1h-1v-1h-1v-3h1v-1h1zm0 2v3h3v-3zM604 340h3v1h1v1h1v3h-1v1h-1v1h-3v-1h-1v-1h-1v-3h1v-1h1zm0 2v3h3v-3zM605 340h3v1h1v1h1v3h-1v1h-1v1h-3v-1h-1v-1h-1v-3h1v-1h1zm0 2v3h3v-3zM605 341h3v1h1v1h1v3h-1v1h-1v1h-3v-1h-1v-1h-1v-3h1v-1h1zm0 2v3h3v-3zM606 341h3v1h1v1h1v3h-1v1h-1v1h-3v-1h-1v-1h-1v-3h1v-1h1zm0 2v3h3v-3zM607 341h3v1h1v1h1v3h-1v1h-1v1h-3v-1h-1v-1h-1v-3h1v-1h1zm0 2v3h3v-3zM608 341h3v1h1v1h1v3h-1v1h-1v1h-3v-1h-1v-1h-1v-3h1v-1h1zm0 2v3h3v-3zM609 341h3v1h1v1h1v3h-1v1h-1v1h-3v-1h-1v-1h-1v-3h1v-1h1zm0 2v3h3v-3zM610 342h3v1h1v1h1v3h-1v1h-1v1h-3v-1h-1v-1h-1v-3h1v-1h1zm0 2v3h3v-3zM611 342h3v1h1v1h1v3h-1v1h-1v1h-3v-1h-1v-1h-1v-3h1v-1h1zm0 2v3h3v-3zM612 342h3v1h1v1h1v3h-1v1h-1v1h-3v-1h-1v-1h-1v-3h1v-1h1zm0 2v3h3v-3zM613 342h3v1h1v1h1v3h-1v1h-1v1h-3v-1h-1v-1h-1v-3h1v-1h1zm0 2v3h3v-3zM613 343h3v1h1v1h1v3h-1v1h-1v1h-3v-1h-1v-1h-1v-3h1v-1h1zm0 2v3h3v-3zM614 343h3v1h1v1h1v3h-1v1h-1v1h-3v-1h-1v-1h-1v-3h1v-1h1zm0 2v3h3v-3zM615 343h3v1h1v1h1v3h-1v1h-1v1h-3v-1h-1v-1h-1v-3h1v-1h1zm0 2v3h3v-3zM616 343h3v1h1v1h1v3h-1v1h-1v1h-3v-1h-1v-1h-1v-3h1v-1h1zm0 2v3h3v-3zM616 344h3v1h1v1h1v3h-1v1h-1v1h-3v-1h-1v-1h-1v-3h1v-1h1zm0 2v3h3v-3zM617 344h3v1h1v1h1v3h-1v1h-1v1h-3v-1h-1v-1h-1v-3h1v-1h1zm0 2v3h3v-3zM618 344h3v1h1v1h1v3h-1v1h-1v1h-3v-1h-1v-1h-1v-3h1v-1h1zm0 2v3h3v-3zM619 344h3v1h1v1h1v3h-1v1h-1v1h-3v-1h-1v-1h-1v-3h1v-1h1zm0 2v3h3v-3zM619 345h3v1h1v1h1v3h-1v1h-1v1h-3v-1h-1v-1h-1v-3h1v-1h1zm0 2v3h3v-3zM620 345h3v1h1v1h1v3h-1v1h-1v1h-3v-1h-1v-1h-1v-3h1v-1h1zm0 2v3h3v-3zM621 345h3v1h1v1h1v3h-1v1h-1v1h-3v-1h-1v-1h-1v-3h1v-1h1zm0 2v3h3v-3zM622 345h3v1h1v1h1v3h-1v1h-1v1h-3v-1h-1v-1h-1v-3h1v-1h1zm0 2v3h3v-3zM623 346h3v1h1v1h1v3h-1v1h-1v1h-3v-1h-1v-1h-1v-3h1v-1h1zm0 2v3h3v-3zM624 346h3v1h1v1h1v3h-1v1h-1v1h-3v-1h-1v-1h-1v-3h1v-1h1zm0 2v3h3v-3zM625 346h3v1h1v1h1v3h-1v1h-1v1h-3v-1h-1v-1h-1v-3h1v-1h1zm0 2v3h3v-3zM625 347h3v1h1v1h1v3h-1v1h-1v1h-3v-1h-1v-1h-1v-3h1v-1h1zm0 2v3h3v-3zM626 347h3v1h1v1h1v3h-1v1h-1v1h-3v-1h-1v-1h-1v-3h1v-1h1zm0 2v3h3v-3zM627 347h3v1h1v1h1v3h-1v1h-1v1h-3v-1h-1v-1h-1v-3h1v-1h1zm0 2v3h3v-3zM628 347h3v1h1v1h1v3h-1v1h-1v1h-3v-1h-1v-1h-1v-3h1v-1h1zm0 2v3h3v-3zM628 348h3v1h1v1h1v3h-1v1h-1v1h-3v-1h-1v-1h-1v-3h1v-1h1zm0 2v3h3v-3zM629 348h3v1h1v1h1v3h-1v1h-1v1h-3v-1h-1v-1h-1v-3h1v-1h1zm0 2v3h3v-3zM630 349h3v1h1v1h1v3h-1v1h-1v1h-3v-1h-1v-1h-1v-3h1v-1h1zm0 2v3h3v-3zM631 349h3v1h1v1h1v3h-1v1h-1v1h-3v-1h-1v-1h-1v-3h1v-1h1zm0 2v3h3v-3zM631 350h3v1h1v1h1v3h-1v1h-1v1h-3v-1h-1v-1h-1v-3h1v-1h1zm0 2v3h3v-3zM632 350h3v1h1v1h1v3h-1v1h-1v1h-3v-1h-1v-1h-1v-3h1v-1h1zm0 2v3h3v-3zM632 351h3v1h1v1h1v3h-1v1h-1v1h-3v-1h-1v-1h-1v-3h1v-1h1zm0 2v3h3v-3zM633 351h3v1h1v1h1v3h-1v1h-1v1h-3v-1h-1v-1h-1v-3h1v-1h1zm0 2v3h3v-3zM634 351h3v1h1v1h1v3h-1v1h-1v1h-3v-1h-1v-1h-1v-3h1v-1h1zm0 2v3h3v-3zM634 352h3v1h1v1h1v3h-1v1h-1v1h-3v-1h-1v-1h-1v-3h1v-1h1zm0 2v3h3v-3zM635 352h3v1h1v1h1v3h-1v1h-1v1h-3v-1h-1v-1h-1v-3h1v-1h1zm0 2v3h3v-3zM635 353h3v1h1v1h1v3h-1v1h-1v1h-3v-1h-1v-1h-1v-3h1v-1h1zm0 2v3h3v-3zM636 353h3v1h1v1h1v3h-1v1h-1v1h-3v-1h-1v-1h-1v-3h1v-1h1zm0 2v3h3v-3zM637 354h3v1h1v1h1v3h-1v1h-1v1h-3v-1h-1v-1h-1v-3h1v-1h1zm0 2v3h3v-3zM638 355h3v1h1v1h1v3h-1v1h-1v1h-3v-1h-1v-1h-1v-3h1v-1h1zm0 2v3h3v-3zM639 356h3v1h1v1h1v3h-1v1h-1v1h-3v-1h-1v-1h-1v-3h1v-1h1zm0 2v3h3v-3zM640 357h3v1h1v1h1v3h-1v1h-1v1h-3v-1h-1v-1h-1v-3h1v-1h1zm0 2v3h3v-3zM641 358h3v1h1v1h1v3h-1v1h-1v1h-3v-1h-1v-1h-1v-3h1v-1h1zm0 2v3h3v-3zM642 359h3v1h1v1h1v3h-1v1h-1v1h-3v-1h-1v-1h-1v-3h1v-1h1zm0 2v3h3v-3zM643 360h3v1h1v1h1v3h-1v1h-1v1h-3v-1h-1v-1h-1v-3h1v-1h1zm0 2v3h3v-3zM644 361h3v1h1v1h1v3h-1v1h-1v1h-3v-1h-1v-1h-1v-3h1v-1h1zm0 2v3h3v-3zM644 362h3v1h1v1h1v3h-1v1h-1v1h-3v-1h-1v-1h-1v-3h1v-1h1zm0 2v3h3v-3zM645 362h3v1h1v1h1v3h-1v1h-1v1h-3v-1h-1v-1h-1v-3h1v-1h1zm0 2v3h3v-3zM645 363h3v1h1v1h1v3h-1v1h-1v1h-3v-1h-1v-1h-1v-3h1v-1h1zm0 2v3h3v-3zM646 364h3v1h1v1h1v3h-1v1h-1v1h-3v-1h-1v-1h-1v-3h1v-1h1zm0 2v3h3v-3zM646 365h3v1h1v1h1v3h-1v1h-1v1h-3v-1h-1v-1h-1v-3h1v-1h1zm0 2v3h3v-3zM646 366h3v1h1v1h1v3h-1v1h-1v1h-3v-1h-1v-1h-1v-3h1v-1h1zm0 2v3h3v-3zM647 368h3v1h1v1h1v3h-1v1h-1v1h-3v-1h-1v-1h-1v-3h1v-1h1zm0 2v3h3v-3zM647 369h3v1h1v1h1v3h-1v1h-1v1h-3v-1h-1v-1h-1v-3h1v-1h1zm0 2v3h3v-3zM647 370h3v1h1v1h1v3h-1v1h-1v1h-3v-1h-1v-1h-1v-3h1v-1h1zm0 2v3h3v-3zM648 371h3v1h1v1h1v3h-1v1h-1v1h-3v-1h-1v-1h-1v-3h1v-1h1zm0 2v3h3v-3zM648 372h3v1h1v1h1v3h-1v1h-1v1h-3v-1h-1v-1h-1v-3h1v-1h1zm0 2v3h3v-3zM648 374h3v1h1v1h1v3h-1v1h-1v1h-3v-1h-1v-1h-1v-3h1v-1h1zm0 2v3h3v-3zM649 377h3v1h1v1h1v3h-1v1h-1v1h-3v-1h-1v-1h-1v-3h1v-1h1zm0 2v3h3v-3zM649 383h3v1h1v1h1v3h-1v1h-1v1h-3v-1h-1v-1h-1v-3h1v-1h1zm0 2v3h3v-3zM649 382h3v1h1v1h1v3h-1v1h-1v1h-3v-1h-1v-1h-1v-3h1v-1h1zm0 2v3h3v-3zM650 389h3v1h1v1h1v3h-1v1h-1v1h-3v-1h-1v-1h-1v-3h1v-1h1zm0 2v3h3v-3zM650 395h3v1h1v1h1v3h-1v1h-1v1h-3v-1h-1v-1h-1v-3h1v-1h1zm0 2v3h3v-3z"/>
<g fill="#000" shape-rendering="crispEdges"><rect x="94" y="41" width="559" height="1"/><rect x="94" y="481" width="559" height="1"/><rect x="94" y="41" width="1" height="441"/><rect x="652" y="41" width="1" height="441"/><rect x="162" y="475" width="1" height="6"/><rect x="162" y="42" width="1" height="5"/><rect x="230" y="475" width="1" height="6"/><rect x="230" y="42" width="1" height="5"/><rect x="298" y="475" width="1" height="6"/><rect x="298" y="42" width="1" height="5"/><rect x="367" y="475" width="1" height="6"/><rect x="367" y="42" width="1" height="5"/><rect x="435" y="475" width="1" height="6"/><rect x="435" y="42" width="1" height="5"/><rect x="503" y="475" width="1" height="6"/><rect x="503" y="42" width="1" height="5"/><rect x="572" y="475" width="1" height="6"/><rect x="572" y="42" width="1" height="5"/><rect x="640" y="475" width="1" height="6"/><rect x="640" y="42" width="1" height="5"/><rect x="95" y="49" width="5" height="1"/><rect x="646" y="49" width="6" height="1"/><rect x="95" y="108" width="5" height="1"/><rect x="646" y="108" width="6" height="1"/><rect x="95" y="168" width="5" height="1"/><rect x="646" y="168" width="6" height="1"/><rect x="95" y="228" width="5" height="1"/><rect x="646" y="228" width="6" height="1"/><rect x="95" y="288" width="5" height="1"/><rect x="646" y="288" width="6" height="1"/><rect x="95" y="348" width="5" height="1"/><rect x="646" y="348" width="6" height="1"/><rect x="95" y="408" width="5" height="1"/><rect x="646" y="408" width="6" height="1"/><rect x="95" y="468" width="5" height="1"/><rect x="646" y="468" width="6" height="1"/></g>
<text x="94.8" y="497" font-size="10.7" letter-spacing="1.05" text-anchor="middle">0</text>
<text x="163.1" y="497" font-size="10.7" letter-spacing="1.05" text-anchor="middle">200</text>
<text x="231.3" y="497" font-size="10.7" letter-spacing="1.05" text-anchor="middle">400</text>
<text x="299.6" y="497" font-size="10.7" letter-spacing="1.05" text-anchor="middle">600</text>
<text x="367.8" y="497" font-size="10.7" letter-spacing="1.05" text-anchor="middle">800</text>
<text x="436.1" y="497" font-size="10.7" letter-spacing="1.05" text-anchor="middle">1000</text>
<text x="504.3" y="497" font-size="10.7" letter-spacing="1.05" text-anchor="middle">1200</text>
<text x="572.5" y="497" font-size="10.7" letter-spacing="1.05" text-anchor="middle">1400</text>
<text x="640.8" y="497" font-size="10.7" letter-spacing="1.05" text-anchor="middle">1600</text>
<text x="66.9" y="54" font-size="10.7" letter-spacing="1.05">10</text><text x="80" y="45" font-size="8.6" letter-spacing="0.4">10</text>
<text x="66.9" y="113" font-size="10.7" letter-spacing="1.05">10</text><text x="80" y="104" font-size="8.6" letter-spacing="0.4">8</text>
<text x="66.9" y="173" font-size="10.7" letter-spacing="1.05">10</text><text x="80" y="164" font-size="8.6" letter-spacing="0.4">6</text>
<text x="66.9" y="233" font-size="10.7" letter-spacing="1.05">10</text><text x="80" y="224" font-size="8.6" letter-spacing="0.4">4</text>
<text x="66.9" y="293" font-size="10.7" letter-spacing="1.05">10</text><text x="80" y="284" font-size="8.6" letter-spacing="0.4">2</text>
<text x="66.9" y="353" font-size="10.7" letter-spacing="1.05">10</text><text x="80" y="344" font-size="8.6" letter-spacing="0.4">0</text>
<text x="66.9" y="413" font-size="10.7" letter-spacing="1.05">10</text><text x="80" y="404" font-size="8.6" letter-spacing="0.4">-2</text>
<text x="66.9" y="473" font-size="10.7" letter-spacing="1.05">10</text><text x="80" y="464" font-size="8.6" letter-spacing="0.4">-4</text>
<text y="33" font-size="12.2"><tspan x="300.2">FIDAP/ex7</tspan> <tspan x="361.2">singular</tspan> <tspan x="408.2">values</tspan></text>
<g fill="#000" shape-rendering="crispEdges"><rect x="509" y="48" width="138" height="1"/><rect x="509" y="87" width="138" height="1"/><rect x="509" y="48" width="1" height="40"/><rect x="646" y="48" width="1" height="40"/></g>
<rect x="510" y="49" width="136" height="38" fill="#fff"/>
<path fill="#000" shape-rendering="crispEdges" d="M534 55h3v1h1v1h1v3h-1v1h-1v1h-3v-1h-1v-1h-1v-3h1v-1h1zm0 2v3h3v-3z"/>
<rect x="516" y="75" width="38" height="2" fill="#00ff00" shape-rendering="crispEdges"/>
<text x="558" y="64.5" font-size="12.5">singular values</text>
<text x="558" y="82.5" font-size="12.5">tolerance</text>
</svg></body></html>
